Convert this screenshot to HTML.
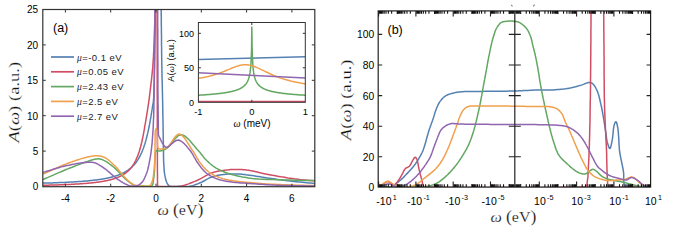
<!DOCTYPE html>
<html><head><meta charset="utf-8"><style>
html,body{margin:0;padding:0;background:#fff;width:675px;height:247px;overflow:hidden}
svg{display:block}
</style></head><body>
<svg width="675" height="247" viewBox="0 0 675 247">
<rect width="675" height="247" fill="#fff"/>
<defs><clipPath id="ca"><rect x="42.8" y="9.5" width="272.0" height="177.2"/></clipPath>
<clipPath id="cb"><rect x="378" y="11" width="272.8" height="176"/></clipPath></defs>
<g clip-path="url(#ca)">
<path d="M43.0,183.2 L43.3,183.2 L43.5,183.1 L43.8,183.1 L44.0,183.1 L44.3,183.1 L44.5,183.1 L44.8,183.1 L45.0,183.1 L45.3,183.1 L45.5,183.1 L45.8,183.1 L46.0,183.1 L46.3,183.1 L46.5,183.1 L46.8,183.1 L47.0,183.0 L47.3,183.0 L47.5,183.0 L47.8,183.0 L48.0,183.0 L48.3,183.0 L48.5,183.0 L48.8,183.0 L49.0,183.0 L49.3,183.0 L49.5,183.0 L49.8,183.0 L50.0,183.0 L50.3,182.9 L50.5,182.9 L50.8,182.9 L51.0,182.9 L51.3,182.9 L51.5,182.9 L51.8,182.9 L52.0,182.9 L52.3,182.9 L52.5,182.9 L52.8,182.9 L53.0,182.9 L53.3,182.8 L53.5,182.8 L53.8,182.8 L54.0,182.8 L54.3,182.8 L54.5,182.8 L54.8,182.8 L55.0,182.8 L55.3,182.8 L55.5,182.8 L55.8,182.8 L56.0,182.7 L56.3,182.7 L56.5,182.7 L56.8,182.7 L57.0,182.7 L57.3,182.7 L57.5,182.7 L57.8,182.7 L58.0,182.7 L58.3,182.7 L58.5,182.6 L58.8,182.6 L59.0,182.6 L59.3,182.6 L59.5,182.6 L59.8,182.6 L60.0,182.6 L60.3,182.6 L60.5,182.6 L60.8,182.6 L61.0,182.5 L61.3,182.5 L61.5,182.5 L61.8,182.5 L62.0,182.5 L62.3,182.5 L62.5,182.5 L62.8,182.5 L63.0,182.5 L63.3,182.4 L63.5,182.4 L63.8,182.4 L64.0,182.4 L64.3,182.4 L64.5,182.4 L64.8,182.4 L65.0,182.4 L65.3,182.4 L65.5,182.3 L65.8,182.3 L66.0,182.3 L66.3,182.3 L66.5,182.3 L66.8,182.3 L67.0,182.3 L67.3,182.3 L67.5,182.2 L67.8,182.2 L68.0,182.2 L68.3,182.2 L68.5,182.2 L68.8,182.2 L69.0,182.2 L69.3,182.2 L69.5,182.1 L69.8,182.1 L70.0,182.1 L70.3,182.1 L70.5,182.1 L70.8,182.1 L71.0,182.1 L71.3,182.1 L71.5,182.0 L71.8,182.0 L72.0,182.0 L72.3,182.0 L72.5,182.0 L72.8,182.0 L73.0,182.0 L73.3,181.9 L73.5,181.9 L73.8,181.9 L74.0,181.9 L74.3,181.9 L74.5,181.9 L74.8,181.8 L75.0,181.8 L75.3,181.8 L75.5,181.8 L75.8,181.8 L76.0,181.8 L76.3,181.8 L76.5,181.7 L76.8,181.7 L77.0,181.7 L77.3,181.7 L77.5,181.7 L77.8,181.7 L78.0,181.6 L78.3,181.6 L78.5,181.6 L78.8,181.6 L79.0,181.6 L79.3,181.5 L79.5,181.5 L79.8,181.5 L80.0,181.5 L80.3,181.5 L80.5,181.5 L80.8,181.4 L81.0,181.4 L81.3,181.4 L81.5,181.4 L81.8,181.4 L82.0,181.3 L82.3,181.3 L82.5,181.3 L82.8,181.3 L83.0,181.3 L83.3,181.2 L83.5,181.2 L83.8,181.2 L84.0,181.2 L84.3,181.2 L84.5,181.1 L84.8,181.1 L85.0,181.1 L85.3,181.1 L85.5,181.1 L85.8,181.0 L86.0,181.0 L86.3,181.0 L86.5,181.0 L86.8,180.9 L87.0,180.9 L87.3,180.9 L87.5,180.9 L87.8,180.9 L88.0,180.8 L88.3,180.8 L88.5,180.8 L88.8,180.8 L89.0,180.7 L89.3,180.7 L89.5,180.7 L89.8,180.7 L90.0,180.6 L90.3,180.6 L90.5,180.6 L90.8,180.6 L91.0,180.5 L91.3,180.5 L91.5,180.5 L91.8,180.5 L92.0,180.4 L92.3,180.4 L92.5,180.4 L92.8,180.3 L93.0,180.3 L93.3,180.3 L93.5,180.3 L93.8,180.2 L94.0,180.2 L94.3,180.2 L94.5,180.1 L94.8,180.1 L95.0,180.1 L95.3,180.0 L95.5,180.0 L95.8,180.0 L96.0,180.0 L96.3,179.9 L96.5,179.9 L96.8,179.9 L97.0,179.8 L97.3,179.8 L97.5,179.8 L97.8,179.7 L98.0,179.7 L98.3,179.7 L98.5,179.6 L98.8,179.6 L99.0,179.6 L99.3,179.5 L99.5,179.5 L99.8,179.4 L100.0,179.4 L100.3,179.4 L100.5,179.3 L100.8,179.3 L101.0,179.3 L101.3,179.2 L101.5,179.2 L101.8,179.1 L102.0,179.1 L102.3,179.1 L102.5,179.0 L102.8,179.0 L103.0,178.9 L103.3,178.9 L103.5,178.8 L103.8,178.8 L104.0,178.8 L104.3,178.7 L104.5,178.7 L104.8,178.6 L105.0,178.6 L105.3,178.5 L105.5,178.5 L105.8,178.4 L106.0,178.4 L106.3,178.3 L106.5,178.3 L106.8,178.2 L107.0,178.2 L107.3,178.1 L107.5,178.1 L107.8,178.0 L108.0,178.0 L108.3,177.9 L108.5,177.9 L108.8,177.8 L109.0,177.8 L109.3,177.7 L109.5,177.6 L109.8,177.6 L110.0,177.5 L110.3,177.5 L110.5,177.4 L110.8,177.3 L111.0,177.3 L111.3,177.2 L111.5,177.2 L111.8,177.1 L112.0,177.0 L112.3,177.0 L112.5,176.9 L112.8,176.8 L113.0,176.8 L113.3,176.7 L113.5,176.6 L113.8,176.5 L114.0,176.5 L114.3,176.4 L114.5,176.3 L114.8,176.3 L115.0,176.2 L115.3,176.1 L115.5,176.0 L115.8,175.9 L116.0,175.9 L116.3,175.8 L116.5,175.7 L116.8,175.6 L117.0,175.5 L117.3,175.4 L117.5,175.4 L117.8,175.3 L118.0,175.2 L118.3,175.1 L118.5,175.0 L118.8,174.9 L119.0,174.8 L119.3,174.7 L119.5,174.6 L119.8,174.5 L120.0,174.4 L120.3,174.3 L120.5,174.2 L120.8,174.1 L121.0,174.0 L121.3,173.9 L121.5,173.8 L121.8,173.7 L122.0,173.5 L122.3,173.4 L122.5,173.3 L122.8,173.2 L123.0,173.1 L123.3,172.9 L123.5,172.8 L123.8,172.7 L124.0,172.6 L124.3,172.4 L124.5,172.3 L124.8,172.1 L125.0,172.0 L125.3,171.9 L125.5,171.7 L125.8,171.6 L126.0,171.4 L126.3,171.3 L126.5,171.1 L126.8,171.0 L127.0,170.8 L127.3,170.6 L127.5,170.5 L127.8,170.3 L128.0,170.1 L128.3,170.0 L128.5,169.8 L128.8,169.6 L129.0,169.4 L129.3,169.2 L129.5,169.0 L129.8,168.8 L130.0,168.6 L130.3,168.4 L130.5,168.2 L130.8,168.0 L131.0,167.8 L131.3,167.6 L131.5,167.4 L131.8,167.1 L132.0,166.9 L132.3,166.7 L132.5,166.4 L132.8,166.2 L133.0,165.9 L133.3,165.7 L133.5,165.4 L133.8,165.1 L134.0,164.8 L134.3,164.6 L134.5,164.3 L134.8,164.0 L135.0,163.7 L135.3,163.4 L135.5,163.1 L135.8,162.8 L136.0,162.4 L136.3,162.1 L136.5,161.7 L136.8,161.4 L137.0,161.0 L137.3,160.6 L137.5,160.3 L137.8,159.9 L138.0,159.5 L138.3,159.1 L138.5,158.7 L138.8,158.3 L139.0,157.9 L139.3,157.4 L139.5,156.9 L139.8,156.4 L140.0,156.0 L140.3,155.5 L140.5,155.0 L140.8,154.4 L141.0,153.9 L141.3,153.4 L141.5,152.9 L141.8,152.3 L142.0,151.8 L142.3,151.1 L142.5,150.5 L142.8,149.8 L143.0,149.1 L143.3,148.5 L143.6,147.8 L143.8,147.1 L144.0,146.4 L144.3,145.6 L144.5,144.9 L144.8,144.2 L145.0,143.4 L145.3,142.5 L145.5,141.6 L145.8,140.7 L146.1,139.7 L146.3,138.8 L146.6,137.8 L146.8,136.8 L147.1,135.8 L147.3,134.9 L147.5,133.9 L147.8,132.9 L148.0,131.9 L148.2,130.8 L148.5,129.7 L148.7,128.6 L148.9,127.5 L149.2,126.3 L149.4,125.2 L149.6,124.1 L149.8,123.0 L150.0,121.9 L150.2,120.9 L150.3,120.0 L150.5,119.1 L150.6,118.5 L150.7,117.9 L150.8,117.4 L150.9,116.9 L151.0,116.4 L151.0,115.9 L151.1,115.5 L151.2,115.0 L151.3,114.5 L151.3,114.1 L151.4,113.6 L151.5,113.1 L151.6,112.6 L151.7,112.0 L151.8,111.5 L151.8,111.0 L151.9,110.4 L152.0,109.9 L152.1,109.4 L152.2,108.8 L152.3,108.3 L152.3,107.8 L152.4,107.2 L152.5,106.7 L152.6,106.2 L152.7,105.7 L152.8,105.2 L152.8,104.7 L152.9,104.2 L153.0,103.7 L153.1,103.2 L153.2,102.7 L153.3,102.1 L153.4,101.5 L153.4,100.8 L153.5,100.1 L153.7,97.9 L153.8,95.3 L153.9,92.4 L154.0,89.1 L154.1,85.6 L154.2,82.0 L154.3,78.2 L154.3,74.4 L154.4,70.6 L154.5,66.9 L154.5,63.4 L154.6,60.0 L154.7,57.0 L154.7,54.0 L154.8,50.9 L154.8,47.9 L154.9,45.0 L154.9,42.0 L155.0,39.0 L155.0,36.1 L155.1,33.3 L155.1,30.5 L155.2,27.7 L155.2,25.0 L155.2,22.8 L155.3,20.6 L155.3,18.5 L155.3,16.4 L155.3,14.3 L155.4,12.2 L155.4,10.2 L155.4,8.2 L155.4,6.2 L155.5,4.1 L155.5,2.1 L155.5,0.0 L161.1,0.0 L161.1,2.5 L161.1,5.0 L161.2,7.4 L161.2,9.9 L161.2,12.4 L161.2,14.9 L161.3,17.3 L161.3,19.8 L161.3,22.3 L161.3,24.9 L161.4,27.4 L161.4,30.0 L161.4,32.8 L161.5,35.7 L161.5,38.6 L161.5,41.5 L161.5,44.4 L161.6,47.3 L161.6,50.3 L161.6,53.2 L161.7,56.2 L161.7,59.1 L161.8,62.1 L161.8,65.0 L161.9,67.9 L161.9,70.8 L162.0,73.7 L162.0,76.6 L162.1,79.5 L162.2,82.4 L162.3,85.3 L162.3,88.2 L162.4,91.1 L162.5,94.0 L162.5,97.0 L162.6,100.0 L162.7,103.3 L162.7,106.6 L162.8,110.1 L162.8,113.5 L162.9,117.0 L163.0,120.5 L163.0,123.9 L163.1,127.3 L163.1,130.7 L163.2,133.9 L163.2,137.0 L163.3,140.0 L163.3,142.2 L163.4,144.5 L163.4,146.6 L163.4,148.8 L163.5,150.9 L163.5,153.0 L163.5,155.0 L163.5,156.9 L163.6,158.8 L163.6,160.6 L163.7,162.3 L163.8,164.0 L163.9,165.1 L163.9,166.1 L164.0,167.1 L164.0,168.1 L164.1,169.0 L164.2,169.9 L164.2,170.8 L164.3,171.7 L164.4,172.5 L164.5,173.3 L164.7,174.2 L164.8,175.0 L164.9,175.7 L165.1,176.4 L165.2,177.1 L165.3,177.7 L165.5,178.4 L165.6,179.1 L165.8,179.7 L166.0,180.3 L166.1,180.9 L166.4,181.5 L166.6,182.0 L166.8,182.5 L167.0,182.9 L167.2,183.2 L167.3,183.6 L167.5,183.9 L167.7,184.2 L167.9,184.5 L168.1,184.8 L168.3,185.1 L168.6,185.4 L168.9,185.6 L169.2,185.8 L169.5,186.0 L170.1,186.2 L170.8,186.4 L171.6,186.5 L172.4,186.6 L173.4,186.6 L174.3,186.6 L175.3,186.5 L176.2,186.5 L177.2,186.4 L178.2,186.3 L179.1,186.3 L180.0,186.3 L180.8,186.3 L181.6,186.4 L182.4,186.4 L183.2,186.4 L184.0,186.5 L184.8,186.5 L185.6,186.6 L186.4,186.6 L187.3,186.5 L188.1,186.5 L188.9,186.4 L189.7,186.3 L190.6,186.1 L191.6,185.9 L192.5,185.7 L193.4,185.4 L194.4,185.0 L195.3,184.7 L196.3,184.3 L197.2,184.0 L198.2,183.6 L199.1,183.2 L200.1,182.8 L201.0,182.4 L202.0,182.0 L202.9,181.5 L203.8,181.0 L204.8,180.5 L205.7,180.0 L206.6,179.4 L207.6,178.9 L208.5,178.4 L209.5,177.9 L210.4,177.5 L211.4,177.1 L212.4,176.7 L213.4,176.4 L214.5,176.1 L215.6,175.8 L216.6,175.6 L217.7,175.3 L218.8,175.2 L219.9,175.0 L221.0,174.8 L222.1,174.7 L223.2,174.5 L224.3,174.4 L225.4,174.3 L226.5,174.2 L227.6,174.1 L228.6,174.0 L229.7,174.0 L230.8,173.9 L231.9,173.9 L233.0,173.9 L234.0,173.9 L235.1,173.9 L236.2,173.9 L237.2,174.0 L238.3,174.0 L239.3,174.1 L240.3,174.1 L241.2,174.2 L242.2,174.3 L243.1,174.4 L244.1,174.5 L245.0,174.6 L246.0,174.8 L247.0,174.9 L248.0,175.0 L249.0,175.2 L250.0,175.3 L251.2,175.5 L252.5,175.6 L253.7,175.8 L255.0,176.0 L256.2,176.2 L257.5,176.4 L258.9,176.6 L260.2,176.8 L261.6,177.1 L262.9,177.3 L264.4,177.5 L265.8,177.7 L267.6,178.0 L269.5,178.2 L271.5,178.5 L273.5,178.8 L275.5,179.1 L277.5,179.4 L279.6,179.7 L281.7,179.9 L283.8,180.2 L285.9,180.5 L288.0,180.8 L290.0,181.0 L292.1,181.2 L294.1,181.5 L296.2,181.7 L298.3,181.9 L300.4,182.1 L302.5,182.3 L304.6,182.5 L306.6,182.7 L308.7,182.9 L310.8,183.1 L312.9,183.3 L315.0,183.5" fill="none" stroke="#5580b2" stroke-width="1.5" stroke-linejoin="round" />
<path d="M43.0,185.3 L43.3,185.3 L43.5,185.3 L43.8,185.3 L44.0,185.3 L44.3,185.3 L44.5,185.3 L44.8,185.3 L45.0,185.2 L45.3,185.2 L45.5,185.2 L45.8,185.2 L46.0,185.2 L46.3,185.2 L46.5,185.2 L46.8,185.2 L47.0,185.2 L47.3,185.2 L47.5,185.2 L47.8,185.2 L48.0,185.2 L48.3,185.2 L48.5,185.2 L48.8,185.2 L49.0,185.1 L49.3,185.1 L49.5,185.1 L49.8,185.1 L50.0,185.1 L50.3,185.1 L50.5,185.1 L50.8,185.1 L51.0,185.1 L51.3,185.1 L51.5,185.1 L51.8,185.1 L52.0,185.1 L52.3,185.1 L52.5,185.0 L52.8,185.0 L53.0,185.0 L53.3,185.0 L53.5,185.0 L53.8,185.0 L54.0,185.0 L54.3,185.0 L54.5,185.0 L54.8,185.0 L55.0,185.0 L55.3,185.0 L55.5,185.0 L55.8,184.9 L56.0,184.9 L56.3,184.9 L56.5,184.9 L56.8,184.9 L57.0,184.9 L57.3,184.9 L57.5,184.9 L57.8,184.9 L58.0,184.9 L58.3,184.9 L58.5,184.9 L58.8,184.8 L59.0,184.8 L59.3,184.8 L59.5,184.8 L59.8,184.8 L60.0,184.8 L60.3,184.8 L60.5,184.8 L60.8,184.8 L61.0,184.8 L61.3,184.8 L61.5,184.7 L61.8,184.7 L62.0,184.7 L62.3,184.7 L62.5,184.7 L62.8,184.7 L63.0,184.7 L63.3,184.7 L63.5,184.7 L63.8,184.7 L64.0,184.7 L64.3,184.6 L64.5,184.6 L64.8,184.6 L65.0,184.6 L65.3,184.6 L65.5,184.6 L65.8,184.6 L66.0,184.6 L66.3,184.6 L66.5,184.5 L66.8,184.5 L67.0,184.5 L67.3,184.5 L67.5,184.5 L67.8,184.5 L68.0,184.5 L68.3,184.5 L68.5,184.5 L68.8,184.4 L69.0,184.4 L69.3,184.4 L69.5,184.4 L69.8,184.4 L70.0,184.4 L70.3,184.4 L70.5,184.4 L70.8,184.4 L71.0,184.3 L71.3,184.3 L71.5,184.3 L71.8,184.3 L72.0,184.3 L72.3,184.3 L72.5,184.3 L72.8,184.3 L73.0,184.2 L73.3,184.2 L73.5,184.2 L73.8,184.2 L74.0,184.2 L74.3,184.2 L74.5,184.2 L74.8,184.1 L75.0,184.1 L75.3,184.1 L75.5,184.1 L75.8,184.1 L76.0,184.1 L76.3,184.1 L76.5,184.0 L76.8,184.0 L77.0,184.0 L77.3,184.0 L77.5,184.0 L77.8,184.0 L78.0,184.0 L78.3,183.9 L78.5,183.9 L78.8,183.9 L79.0,183.9 L79.3,183.9 L79.5,183.9 L79.8,183.8 L80.0,183.8 L80.3,183.8 L80.5,183.8 L80.8,183.8 L81.0,183.8 L81.3,183.7 L81.5,183.7 L81.8,183.7 L82.0,183.7 L82.3,183.7 L82.5,183.7 L82.8,183.6 L83.0,183.6 L83.3,183.6 L83.5,183.6 L83.8,183.6 L84.0,183.5 L84.3,183.5 L84.5,183.5 L84.8,183.5 L85.0,183.5 L85.3,183.4 L85.5,183.4 L85.8,183.4 L86.0,183.4 L86.3,183.4 L86.5,183.3 L86.8,183.3 L87.0,183.3 L87.3,183.3 L87.5,183.3 L87.8,183.2 L88.0,183.2 L88.3,183.2 L88.5,183.2 L88.8,183.1 L89.0,183.1 L89.3,183.1 L89.5,183.1 L89.8,183.0 L90.0,183.0 L90.3,183.0 L90.5,183.0 L90.8,183.0 L91.0,182.9 L91.3,182.9 L91.5,182.9 L91.8,182.9 L92.0,182.8 L92.3,182.8 L92.5,182.8 L92.8,182.7 L93.0,182.7 L93.3,182.7 L93.5,182.7 L93.8,182.6 L94.0,182.6 L94.3,182.6 L94.5,182.5 L94.8,182.5 L95.0,182.5 L95.3,182.5 L95.5,182.4 L95.8,182.4 L96.0,182.4 L96.3,182.3 L96.5,182.3 L96.8,182.3 L97.0,182.2 L97.3,182.2 L97.5,182.2 L97.8,182.1 L98.0,182.1 L98.3,182.1 L98.5,182.0 L98.8,182.0 L99.0,182.0 L99.3,181.9 L99.5,181.9 L99.8,181.9 L100.0,181.8 L100.3,181.8 L100.5,181.8 L100.8,181.7 L101.0,181.7 L101.3,181.6 L101.5,181.6 L101.8,181.6 L102.0,181.5 L102.3,181.5 L102.5,181.4 L102.8,181.4 L103.0,181.3 L103.3,181.3 L103.5,181.3 L103.8,181.2 L104.0,181.2 L104.3,181.1 L104.5,181.1 L104.8,181.0 L105.0,181.0 L105.3,180.9 L105.5,180.9 L105.8,180.8 L106.0,180.8 L106.3,180.7 L106.5,180.7 L106.8,180.6 L107.0,180.6 L107.3,180.5 L107.5,180.5 L107.8,180.4 L108.0,180.4 L108.3,180.3 L108.5,180.3 L108.8,180.2 L109.0,180.1 L109.3,180.1 L109.5,180.0 L109.8,180.0 L110.0,179.9 L110.3,179.8 L110.5,179.8 L110.8,179.7 L111.0,179.6 L111.3,179.6 L111.5,179.5 L111.8,179.4 L112.0,179.4 L112.3,179.3 L112.5,179.2 L112.8,179.1 L113.0,179.1 L113.3,179.0 L113.5,178.9 L113.8,178.8 L114.0,178.8 L114.3,178.7 L114.5,178.6 L114.8,178.5 L115.0,178.4 L115.3,178.3 L115.5,178.3 L115.8,178.2 L116.0,178.1 L116.3,178.0 L116.5,177.9 L116.8,177.8 L117.0,177.7 L117.3,177.6 L117.5,177.5 L117.8,177.4 L118.0,177.3 L118.3,177.2 L118.5,177.1 L118.8,177.0 L119.0,176.9 L119.3,176.8 L119.5,176.6 L119.8,176.5 L120.0,176.4 L120.3,176.3 L120.5,176.2 L120.8,176.0 L121.0,175.9 L121.3,175.8 L121.5,175.6 L121.8,175.5 L122.0,175.4 L122.3,175.2 L122.5,175.1 L122.8,174.9 L123.0,174.8 L123.3,174.6 L123.5,174.5 L123.8,174.3 L124.0,174.2 L124.3,174.0 L124.5,173.8 L124.8,173.7 L125.0,173.5 L125.3,173.3 L125.5,173.1 L125.8,172.9 L126.0,172.7 L126.3,172.6 L126.5,172.4 L126.8,172.2 L127.0,171.9 L127.3,171.7 L127.5,171.5 L127.8,171.3 L128.0,171.0 L128.3,170.8 L128.5,170.6 L128.8,170.3 L129.0,170.1 L129.3,169.8 L129.5,169.6 L129.8,169.3 L130.0,169.0 L130.3,168.8 L130.5,168.5 L130.8,168.1 L131.0,167.8 L131.3,167.5 L131.5,167.2 L131.8,166.9 L132.0,166.5 L132.3,166.2 L132.5,165.9 L132.8,165.5 L133.0,165.2 L133.3,164.8 L133.5,164.3 L133.8,163.9 L134.0,163.5 L134.3,163.1 L134.5,162.6 L134.8,162.2 L135.0,161.7 L135.3,161.2 L135.5,160.8 L135.8,160.3 L136.0,159.8 L136.3,159.2 L136.5,158.6 L136.8,158.0 L137.1,157.4 L137.3,156.8 L137.6,156.2 L137.8,155.6 L138.0,154.9 L138.3,154.2 L138.5,153.6 L138.8,152.9 L139.0,152.2 L139.3,151.4 L139.5,150.5 L139.8,149.6 L140.1,148.8 L140.3,147.9 L140.6,146.9 L140.8,146.0 L141.1,145.1 L141.3,144.1 L141.5,143.1 L141.8,142.2 L142.0,141.2 L142.3,140.0 L142.5,138.7 L142.8,137.5 L143.0,136.2 L143.3,134.9 L143.5,133.6 L143.8,132.3 L144.0,131.0 L144.3,129.6 L144.5,128.2 L144.7,126.7 L145.0,125.3 L145.3,123.4 L145.7,121.4 L146.0,119.4 L146.3,117.4 L146.7,115.3 L147.0,113.2 L147.4,111.0 L147.7,108.8 L148.0,106.6 L148.4,104.3 L148.7,102.1 L149.0,99.8 L149.4,97.1 L149.7,94.3 L150.1,91.5 L150.4,88.6 L150.8,85.7 L151.1,82.7 L151.5,79.8 L151.8,76.8 L152.1,73.8 L152.4,70.9 L152.7,67.9 L152.9,65.0 L153.1,62.1 L153.3,59.1 L153.5,56.2 L153.6,53.2 L153.8,50.3 L153.9,47.3 L154.0,44.4 L154.1,41.5 L154.2,38.6 L154.3,35.7 L154.4,32.8 L154.5,30.0 L154.6,27.4 L154.7,24.9 L154.8,22.3 L154.9,19.8 L155.0,17.3 L155.1,14.9 L155.2,12.4 L155.2,9.9 L155.3,7.4 L155.4,5.0 L155.5,2.5 L155.6,0.0 L157.1,0.0 L157.1,10.1 L157.1,20.4 L157.1,30.8 L157.2,41.3 L157.2,51.8 L157.2,62.2 L157.2,72.5 L157.2,82.6 L157.2,92.5 L157.3,102.0 L157.3,111.2 L157.3,120.0 L157.3,126.2 L157.3,132.2 L157.3,138.0 L157.4,143.6 L157.4,149.0 L157.4,154.4 L157.4,159.7 L157.4,165.0 L157.4,170.3 L157.5,175.6 L157.5,180.9 L157.5,186.4 L157.5,186.4 L157.5,186.4 L157.6,186.4 L157.6,186.4 L157.6,186.4 L157.7,186.4 L157.7,186.5 L157.7,186.5 L157.8,186.5 L157.8,186.5 L157.9,186.5 L157.9,186.5 L158.0,186.5 L158.4,186.5 L159.1,186.5 L159.9,186.6 L160.9,186.6 L161.9,186.6 L163.1,186.6 L164.3,186.6 L165.5,186.5 L166.7,186.5 L167.9,186.5 L169.0,186.5 L170.0,186.5 L170.9,186.5 L171.7,186.5 L172.5,186.5 L173.3,186.6 L174.1,186.6 L174.9,186.6 L175.7,186.6 L176.5,186.6 L177.4,186.6 L178.2,186.5 L179.1,186.4 L180.0,186.3 L181.2,186.1 L182.5,185.8 L183.8,185.4 L185.2,185.0 L186.5,184.5 L187.9,184.1 L189.3,183.6 L190.7,183.0 L192.1,182.5 L193.5,181.9 L194.9,181.4 L196.2,180.8 L197.6,180.2 L198.9,179.5 L200.3,178.8 L201.6,178.1 L202.9,177.3 L204.3,176.6 L205.6,175.8 L207.0,175.1 L208.3,174.4 L209.7,173.8 L211.0,173.2 L212.4,172.7 L213.7,172.3 L215.1,171.9 L216.5,171.6 L217.9,171.3 L219.3,171.0 L220.7,170.8 L222.1,170.6 L223.5,170.4 L224.8,170.2 L226.1,170.1 L227.4,169.9 L228.6,169.8 L229.5,169.7 L230.3,169.6 L231.2,169.6 L232.0,169.5 L232.8,169.5 L233.5,169.4 L234.3,169.4 L235.1,169.4 L235.9,169.4 L236.7,169.4 L237.5,169.4 L238.3,169.4 L239.2,169.4 L240.2,169.5 L241.1,169.5 L242.1,169.6 L243.0,169.7 L244.0,169.7 L245.0,169.8 L245.9,169.9 L246.9,170.1 L247.9,170.2 L249.0,170.3 L250.0,170.5 L251.2,170.7 L252.5,170.9 L253.7,171.2 L254.9,171.5 L256.2,171.8 L257.5,172.1 L258.8,172.4 L260.1,172.7 L261.5,173.1 L262.9,173.4 L264.3,173.7 L265.8,174.0 L267.8,174.4 L269.8,174.8 L272.0,175.2 L274.2,175.6 L276.4,176.0 L278.7,176.4 L281.0,176.8 L283.3,177.1 L285.6,177.5 L287.8,177.9 L290.0,178.2 L292.2,178.5 L294.2,178.8 L296.1,179.0 L298.0,179.2 L299.9,179.5 L301.8,179.7 L303.7,179.9 L305.6,180.0 L307.5,180.2 L309.3,180.4 L311.2,180.6 L313.1,180.8 L315.0,181.0" fill="none" stroke="#d04e64" stroke-width="1.5" stroke-linejoin="round" />
<path d="M43.0,179.5 L45.3,178.5 L47.5,177.6 L49.8,176.6 L52.0,175.6 L54.3,174.6 L56.5,173.6 L58.8,172.6 L61.1,171.7 L63.3,170.7 L65.5,169.8 L67.8,168.9 L70.0,168.0 L72.2,167.2 L74.4,166.3 L76.7,165.4 L79.1,164.5 L81.4,163.6 L83.7,162.7 L85.9,161.9 L88.1,161.2 L90.1,160.5 L91.9,160.0 L93.6,159.5 L95.0,159.2 L95.5,159.1 L96.0,159.0 L96.5,158.9 L96.9,158.9 L97.4,158.9 L97.7,158.8 L98.1,158.8 L98.5,158.8 L98.9,158.9 L99.2,158.9 L99.6,158.9 L100.0,159.0 L100.4,159.1 L100.8,159.2 L101.2,159.3 L101.5,159.4 L101.9,159.5 L102.3,159.6 L102.7,159.8 L103.1,160.0 L103.4,160.2 L103.8,160.4 L104.3,160.6 L104.7,160.8 L105.4,161.2 L106.2,161.7 L107.0,162.2 L107.8,162.7 L108.7,163.3 L109.5,164.0 L110.4,164.6 L111.2,165.2 L112.1,165.9 L112.9,166.5 L113.7,167.2 L114.4,167.8 L115.0,168.3 L115.6,168.9 L116.2,169.4 L116.7,169.9 L117.2,170.5 L117.8,171.0 L118.3,171.6 L118.8,172.1 L119.3,172.7 L119.8,173.2 L120.4,173.8 L120.9,174.3 L121.4,174.8 L122.0,175.4 L122.5,175.9 L123.0,176.5 L123.5,177.1 L124.1,177.6 L124.6,178.1 L125.1,178.7 L125.7,179.2 L126.2,179.7 L126.8,180.2 L127.4,180.7 L128.0,181.2 L128.7,181.7 L129.3,182.2 L130.0,182.6 L130.7,183.1 L131.4,183.6 L132.1,184.0 L132.8,184.4 L133.5,184.8 L134.1,185.1 L134.8,185.4 L135.5,185.6 L136.0,185.8 L136.6,185.9 L137.1,185.9 L137.7,186.0 L138.2,186.0 L138.8,186.0 L139.3,186.0 L139.9,186.0 L140.4,186.0 L140.9,186.0 L141.5,186.0 L142.0,186.0 L142.5,186.0 L143.0,186.1 L143.5,186.1 L144.1,186.1 L144.6,186.1 L145.1,186.2 L145.6,186.2 L146.1,186.2 L146.6,186.2 L147.1,186.2 L147.5,186.2 L148.0,186.2 L148.4,186.2 L148.7,186.2 L149.1,186.2 L149.5,186.2 L149.8,186.2 L150.2,186.2 L150.5,186.2 L150.9,186.1 L151.2,186.0 L151.5,185.9 L151.8,185.8 L152.0,185.6 L152.3,185.3 L152.5,184.9 L152.7,184.4 L152.9,183.9 L153.0,183.3 L153.1,182.7 L153.2,182.1 L153.3,181.5 L153.4,180.8 L153.4,180.2 L153.5,179.6 L153.6,179.0 L153.7,178.4 L153.8,177.9 L153.9,177.3 L153.9,176.8 L154.0,176.2 L154.1,175.7 L154.1,175.1 L154.2,174.5 L154.2,173.9 L154.3,173.3 L154.3,172.7 L154.4,172.0 L154.5,171.0 L154.5,169.9 L154.6,168.7 L154.7,167.5 L154.7,166.2 L154.8,165.0 L154.8,163.7 L154.9,162.5 L154.9,161.2 L155.0,160.1 L155.0,159.0 L155.1,158.0 L155.1,157.4 L155.2,156.7 L155.2,156.1 L155.2,155.4 L155.3,154.8 L155.3,154.3 L155.3,153.7 L155.4,153.2 L155.5,152.7 L155.6,152.2 L155.7,151.8 L155.8,151.5 L155.9,151.3 L156.0,151.2 L156.1,151.1 L156.2,150.9 L156.3,150.8 L156.4,150.7 L156.5,150.6 L156.6,150.5 L156.7,150.4 L156.8,150.4 L156.9,150.3 L157.0,150.3 L157.1,150.3 L157.2,150.3 L157.3,150.3 L157.4,150.4 L157.5,150.4 L157.6,150.5 L157.7,150.5 L157.8,150.6 L157.9,150.7 L158.0,150.7 L158.1,150.8 L158.2,150.8 L158.3,150.8 L158.5,150.9 L158.6,150.9 L158.7,150.9 L158.9,151.0 L159.0,151.0 L159.2,151.0 L159.3,151.0 L159.5,151.0 L159.6,151.0 L159.8,151.0 L160.0,151.0 L160.4,150.9 L160.9,150.8 L161.5,150.7 L162.0,150.5 L162.6,150.3 L163.3,150.1 L163.9,149.8 L164.6,149.5 L165.3,149.2 L166.0,148.8 L166.6,148.4 L167.3,148.0 L168.3,147.2 L169.4,146.1 L170.5,144.8 L171.6,143.4 L172.7,141.9 L173.9,140.4 L175.0,138.9 L176.2,137.6 L177.4,136.4 L178.6,135.5 L179.8,134.9 L181.0,134.7 L182.4,134.9 L183.8,135.5 L185.2,136.4 L186.7,137.6 L188.2,139.0 L189.7,140.6 L191.2,142.2 L192.6,143.9 L194.0,145.6 L195.4,147.2 L196.6,148.7 L197.8,150.0 L198.6,150.9 L199.3,151.7 L200.1,152.6 L200.7,153.4 L201.4,154.2 L202.0,155.0 L202.6,155.8 L203.2,156.6 L203.8,157.4 L204.5,158.2 L205.2,159.0 L205.9,159.7 L206.7,160.4 L207.4,161.2 L208.2,161.9 L209.0,162.6 L209.7,163.3 L210.5,164.0 L211.4,164.7 L212.2,165.4 L213.0,166.0 L213.9,166.6 L214.8,167.2 L215.7,167.8 L216.7,168.4 L217.7,168.9 L218.6,169.5 L219.7,170.0 L220.7,170.5 L221.7,170.9 L222.8,171.4 L223.9,171.8 L225.0,172.3 L226.2,172.7 L227.4,173.1 L228.6,173.5 L230.2,174.0 L231.8,174.5 L233.5,174.9 L235.2,175.4 L236.9,175.8 L238.7,176.2 L240.5,176.6 L242.4,177.0 L244.3,177.3 L246.2,177.6 L248.1,177.9 L250.0,178.2 L252.2,178.5 L254.5,178.7 L256.8,178.9 L259.2,179.1 L261.6,179.2 L264.0,179.3 L266.5,179.4 L268.9,179.5 L271.4,179.6 L273.9,179.6 L276.5,179.7 L279.0,179.8 L281.9,179.9 L284.8,180.0 L287.7,180.1 L290.7,180.1 L293.7,180.2 L296.8,180.3 L299.8,180.3 L302.9,180.4 L305.9,180.4 L309.0,180.5 L312.0,180.5 L315.0,180.6" fill="none" stroke="#62a862" stroke-width="1.5" stroke-linejoin="round" />
<path d="M43.0,174.0 L45.3,173.0 L47.5,172.0 L49.8,171.0 L52.1,170.0 L54.4,169.0 L56.7,168.0 L59.0,167.0 L61.3,166.0 L63.5,165.0 L65.7,164.1 L67.9,163.3 L70.0,162.5 L71.8,161.9 L73.6,161.2 L75.4,160.6 L77.2,160.0 L79.0,159.5 L80.7,158.9 L82.4,158.4 L84.1,157.9 L85.7,157.5 L87.2,157.1 L88.6,156.8 L90.0,156.5 L90.8,156.4 L91.5,156.2 L92.3,156.1 L92.9,156.0 L93.6,155.9 L94.3,155.8 L94.9,155.8 L95.5,155.8 L96.1,155.7 L96.8,155.7 L97.4,155.8 L98.0,155.8 L98.6,155.9 L99.2,155.9 L99.7,156.0 L100.3,156.1 L100.8,156.2 L101.4,156.3 L101.9,156.4 L102.5,156.6 L103.0,156.8 L103.6,157.0 L104.1,157.2 L104.7,157.5 L105.5,157.9 L106.3,158.4 L107.1,159.0 L108.0,159.6 L108.8,160.3 L109.7,161.0 L110.5,161.8 L111.3,162.5 L112.1,163.2 L112.9,164.0 L113.7,164.7 L114.4,165.4 L115.0,166.0 L115.6,166.6 L116.2,167.2 L116.7,167.8 L117.2,168.4 L117.8,169.0 L118.3,169.6 L118.8,170.3 L119.3,170.9 L119.8,171.5 L120.4,172.1 L120.9,172.7 L121.4,173.3 L122.0,173.9 L122.5,174.6 L123.0,175.2 L123.6,175.8 L124.1,176.5 L124.6,177.1 L125.2,177.7 L125.7,178.3 L126.3,178.9 L126.8,179.5 L127.4,180.0 L127.9,180.5 L128.4,180.9 L128.9,181.4 L129.5,181.9 L130.0,182.3 L130.5,182.7 L131.1,183.1 L131.6,183.5 L132.1,183.9 L132.7,184.2 L133.2,184.5 L133.8,184.8 L134.3,185.0 L134.9,185.2 L135.4,185.3 L136.0,185.5 L136.5,185.6 L137.1,185.7 L137.6,185.7 L138.2,185.8 L138.7,185.8 L139.3,185.9 L139.8,185.9 L140.3,186.0 L140.7,186.0 L141.1,186.1 L141.5,186.1 L141.9,186.1 L142.3,186.2 L142.7,186.2 L143.1,186.2 L143.5,186.2 L143.8,186.2 L144.2,186.2 L144.6,186.2 L145.0,186.2 L145.4,186.2 L145.8,186.2 L146.2,186.2 L146.6,186.3 L147.0,186.3 L147.4,186.3 L147.8,186.3 L148.1,186.3 L148.5,186.3 L148.9,186.2 L149.2,186.1 L149.5,185.9 L149.8,185.7 L150.1,185.4 L150.4,185.1 L150.7,184.7 L150.9,184.3 L151.1,183.9 L151.4,183.4 L151.6,182.9 L151.8,182.5 L151.9,182.0 L152.1,181.5 L152.3,181.0 L152.5,180.4 L152.7,179.8 L152.8,179.1 L153.0,178.5 L153.1,177.8 L153.2,177.1 L153.3,176.3 L153.4,175.6 L153.5,174.9 L153.6,174.1 L153.7,173.3 L153.8,172.5 L153.9,171.4 L154.0,170.3 L154.1,169.2 L154.2,168.0 L154.3,166.8 L154.4,165.6 L154.5,164.4 L154.6,163.1 L154.6,161.8 L154.7,160.6 L154.7,159.3 L154.8,158.0 L154.9,156.5 L154.9,155.0 L154.9,153.5 L155.0,151.9 L155.0,150.3 L155.0,148.7 L155.0,147.2 L155.0,145.6 L155.0,144.1 L155.1,142.7 L155.1,141.3 L155.1,140.0 L155.1,139.1 L155.1,138.3 L155.1,137.4 L155.1,136.6 L155.1,135.7 L155.1,135.0 L155.1,134.2 L155.2,133.5 L155.2,132.8 L155.2,132.1 L155.3,131.5 L155.4,131.0 L155.5,130.7 L155.5,130.4 L155.6,130.1 L155.7,129.9 L155.7,129.6 L155.8,129.3 L155.9,129.1 L156.0,128.9 L156.1,128.7 L156.1,128.6 L156.2,128.5 L156.3,128.5 L156.4,128.5 L156.5,128.6 L156.5,128.7 L156.6,128.9 L156.7,129.1 L156.8,129.4 L156.9,129.6 L156.9,129.9 L157.0,130.2 L157.1,130.5 L157.1,130.7 L157.2,131.0 L157.3,131.4 L157.3,131.8 L157.4,132.3 L157.4,132.7 L157.4,133.2 L157.4,133.7 L157.4,134.2 L157.4,134.8 L157.4,135.3 L157.4,135.9 L157.5,136.4 L157.5,137.0 L157.5,137.9 L157.5,138.8 L157.5,139.9 L157.5,141.0 L157.5,142.2 L157.5,143.3 L157.5,144.4 L157.6,145.4 L157.7,146.4 L157.8,147.2 L158.1,147.9 L158.4,148.4 L158.6,148.6 L158.9,148.8 L159.1,148.9 L159.4,149.0 L159.7,149.0 L160.0,149.1 L160.3,149.1 L160.7,149.1 L161.0,149.1 L161.3,149.1 L161.7,149.0 L162.0,149.0 L162.4,149.0 L162.8,148.9 L163.2,148.9 L163.7,148.8 L164.1,148.7 L164.5,148.6 L165.0,148.4 L165.4,148.3 L165.9,148.1 L166.3,147.9 L166.8,147.6 L167.3,147.3 L168.2,146.6 L169.1,145.5 L170.1,144.3 L171.0,142.9 L172.0,141.4 L173.0,139.8 L174.1,138.3 L175.1,137.0 L176.1,135.8 L177.2,134.9 L178.2,134.3 L179.2,134.1 L180.3,134.3 L181.4,135.0 L182.5,135.9 L183.7,137.1 L184.8,138.6 L185.9,140.2 L187.0,141.9 L188.1,143.6 L189.2,145.4 L190.3,147.0 L191.3,148.6 L192.2,150.0 L193.0,151.1 L193.7,152.2 L194.4,153.4 L195.1,154.5 L195.7,155.7 L196.4,156.8 L197.0,157.9 L197.7,159.0 L198.3,160.0 L198.9,161.1 L199.6,162.1 L200.3,163.0 L200.9,163.8 L201.5,164.5 L202.1,165.3 L202.6,166.0 L203.2,166.7 L203.8,167.3 L204.4,168.0 L205.0,168.6 L205.7,169.3 L206.3,169.9 L206.9,170.4 L207.6,171.0 L208.2,171.5 L208.9,172.0 L209.5,172.5 L210.1,172.9 L210.8,173.3 L211.4,173.7 L212.1,174.1 L212.8,174.5 L213.5,174.9 L214.2,175.3 L214.9,175.6 L215.7,176.0 L216.6,176.4 L217.6,176.8 L218.6,177.2 L219.6,177.6 L220.6,177.9 L221.7,178.2 L222.8,178.6 L223.9,178.9 L225.0,179.2 L226.2,179.5 L227.4,179.7 L228.6,180.0 L230.2,180.3 L231.8,180.6 L233.5,180.9 L235.2,181.1 L236.9,181.3 L238.7,181.5 L240.5,181.7 L242.4,181.9 L244.3,182.1 L246.2,182.2 L248.1,182.4 L250.0,182.6 L252.3,182.8 L254.7,183.0 L257.1,183.2 L259.5,183.4 L262.0,183.6 L264.5,183.7 L267.1,183.9 L269.6,184.1 L272.2,184.2 L274.8,184.3 L277.4,184.5 L280.0,184.6 L282.8,184.7 L285.7,184.8 L288.6,184.9 L291.5,185.0 L294.4,185.1 L297.3,185.2 L300.3,185.2 L303.2,185.3 L306.2,185.4 L309.1,185.4 L312.1,185.5 L315.0,185.6" fill="none" stroke="#f0a04c" stroke-width="1.5" stroke-linejoin="round" />
<path d="M43.0,172.4 L44.8,171.9 L46.7,171.3 L48.5,170.7 L50.3,170.2 L52.1,169.6 L54.0,169.0 L55.8,168.5 L57.6,167.9 L59.5,167.4 L61.3,166.9 L63.1,166.4 L65.0,166.0 L66.9,165.6 L68.9,165.2 L70.9,164.7 L72.9,164.3 L75.0,164.0 L77.0,163.6 L79.0,163.3 L81.0,163.0 L82.8,162.7 L84.5,162.5 L86.1,162.4 L87.6,162.3 L88.4,162.3 L89.1,162.2 L89.7,162.2 L90.3,162.2 L90.9,162.2 L91.5,162.3 L92.1,162.3 L92.6,162.4 L93.2,162.4 L93.8,162.6 L94.4,162.7 L95.0,162.9 L95.8,163.2 L96.6,163.5 L97.4,163.9 L98.2,164.3 L99.0,164.8 L99.8,165.3 L100.7,165.8 L101.5,166.4 L102.3,166.9 L103.1,167.5 L103.9,168.0 L104.7,168.6 L105.5,169.2 L106.4,169.8 L107.2,170.5 L108.0,171.2 L108.8,171.9 L109.6,172.6 L110.4,173.3 L111.2,174.1 L112.0,174.7 L112.8,175.4 L113.6,176.1 L114.4,176.7 L115.1,177.2 L115.8,177.8 L116.4,178.3 L117.1,178.8 L117.8,179.3 L118.4,179.8 L119.1,180.2 L119.8,180.7 L120.5,181.2 L121.1,181.6 L121.8,182.0 L122.5,182.4 L123.2,182.8 L123.8,183.1 L124.5,183.5 L125.2,183.9 L125.9,184.2 L126.6,184.5 L127.2,184.8 L127.9,185.1 L128.6,185.4 L129.3,185.6 L129.9,185.8 L130.6,185.9 L131.2,186.0 L131.7,186.1 L132.3,186.1 L132.9,186.1 L133.4,186.2 L134.0,186.1 L134.5,186.1 L135.1,186.0 L135.6,186.0 L136.1,185.9 L136.6,185.7 L137.1,185.6 L137.5,185.4 L138.0,185.3 L138.4,185.1 L138.8,184.9 L139.2,184.6 L139.6,184.4 L140.0,184.1 L140.4,183.8 L140.8,183.5 L141.2,183.2 L141.5,182.8 L141.9,182.4 L142.4,181.8 L142.9,181.1 L143.3,180.4 L143.8,179.6 L144.2,178.8 L144.6,178.0 L145.0,177.1 L145.4,176.2 L145.8,175.3 L146.1,174.4 L146.5,173.5 L146.8,172.7 L147.1,171.9 L147.3,171.1 L147.6,170.3 L147.8,169.6 L148.0,168.8 L148.2,168.0 L148.3,167.2 L148.5,166.4 L148.7,165.6 L148.9,164.7 L149.0,163.9 L149.2,163.0 L149.4,162.0 L149.6,160.9 L149.8,159.8 L150.0,158.8 L150.2,157.7 L150.4,156.6 L150.6,155.4 L150.7,154.3 L150.9,153.1 L151.1,151.8 L151.2,150.6 L151.4,149.3 L151.6,147.5 L151.8,145.7 L152.0,143.9 L152.2,142.0 L152.3,140.0 L152.5,138.1 L152.6,136.0 L152.8,133.9 L152.9,131.8 L153.1,129.6 L153.2,127.3 L153.3,125.0 L153.4,121.7 L153.6,118.3 L153.7,114.8 L153.8,111.1 L153.9,107.3 L153.9,103.5 L154.0,99.6 L154.1,95.7 L154.1,91.7 L154.2,87.8 L154.2,83.9 L154.3,80.0 L154.4,75.9 L154.4,71.7 L154.5,67.4 L154.5,63.1 L154.6,58.7 L154.6,54.4 L154.6,50.1 L154.7,45.8 L154.7,41.7 L154.7,37.6 L154.8,33.7 L154.8,30.0 L154.8,27.2 L154.8,24.6 L154.9,22.0 L154.9,19.4 L154.9,17.0 L154.9,14.5 L154.9,12.1 L154.9,9.7 L155.0,7.3 L155.0,4.9 L155.0,2.5 L155.0,0.0 L157.6,0.0 L157.6,3.3 L157.6,6.6 L157.7,9.8 L157.7,13.0 L157.7,16.3 L157.7,19.5 L157.7,22.8 L157.7,26.1 L157.8,29.4 L157.8,32.9 L157.8,36.4 L157.8,40.0 L157.8,44.6 L157.8,49.5 L157.8,54.5 L157.9,59.7 L157.9,65.0 L157.9,70.2 L157.9,75.5 L157.9,80.7 L157.9,85.8 L157.9,90.8 L158.0,95.5 L158.0,100.0 L158.0,103.2 L158.1,106.4 L158.1,109.4 L158.1,112.4 L158.2,115.2 L158.2,118.1 L158.2,120.9 L158.3,123.7 L158.3,126.5 L158.3,129.3 L158.4,132.1 L158.4,135.0 L158.4,135.0 L158.8,135.8 L159.1,136.5 L159.5,137.3 L159.9,138.1 L160.3,138.9 L160.6,139.7 L161.0,140.5 L161.4,141.3 L161.8,142.0 L162.1,142.7 L162.5,143.3 L162.9,143.9 L163.2,144.3 L163.4,144.7 L163.6,145.0 L163.9,145.4 L164.1,145.8 L164.4,146.1 L164.6,146.4 L164.9,146.7 L165.2,146.9 L165.5,147.1 L165.8,147.2 L166.2,147.3 L166.9,147.2 L167.8,146.9 L168.7,146.3 L169.7,145.5 L170.7,144.6 L171.8,143.7 L172.9,142.8 L174.0,141.9 L175.2,141.1 L176.3,140.5 L177.3,140.2 L178.3,140.1 L179.3,140.3 L180.3,140.7 L181.3,141.3 L182.3,142.0 L183.3,142.8 L184.3,143.8 L185.2,144.8 L186.2,145.8 L187.1,146.9 L188.0,148.0 L188.9,149.0 L189.7,150.0 L190.5,151.0 L191.2,152.0 L191.9,153.1 L192.6,154.2 L193.3,155.3 L193.9,156.5 L194.5,157.6 L195.2,158.7 L195.8,159.8 L196.4,160.9 L197.1,162.0 L197.8,163.0 L198.4,163.9 L199.1,164.8 L199.7,165.7 L200.4,166.5 L201.0,167.4 L201.7,168.2 L202.3,169.0 L203.0,169.8 L203.7,170.6 L204.4,171.3 L205.1,172.0 L205.9,172.7 L206.6,173.3 L207.4,173.9 L208.2,174.4 L208.9,174.9 L209.7,175.4 L210.5,175.9 L211.4,176.4 L212.2,176.8 L213.1,177.2 L213.9,177.6 L214.8,178.0 L215.7,178.4 L216.7,178.8 L217.7,179.1 L218.7,179.5 L219.7,179.8 L220.7,180.0 L221.8,180.3 L222.9,180.5 L224.0,180.8 L225.1,181.0 L226.2,181.2 L227.4,181.4 L228.6,181.6 L230.2,181.8 L231.8,182.1 L233.5,182.3 L235.2,182.4 L237.0,182.6 L238.7,182.7 L240.6,182.9 L242.4,183.0 L244.3,183.1 L246.2,183.2 L248.1,183.4 L250.0,183.5 L252.3,183.7 L254.5,183.8 L256.9,184.0 L259.2,184.2 L261.6,184.3 L264.0,184.5 L266.5,184.7 L268.9,184.8 L271.4,184.9 L273.9,185.1 L276.5,185.2 L279.0,185.3 L281.9,185.4 L284.8,185.5 L287.7,185.6 L290.7,185.6 L293.7,185.7 L296.8,185.7 L299.8,185.8 L302.9,185.8 L305.9,185.9 L309.0,185.9 L312.0,185.9 L315.0,186.0" fill="none" stroke="#9066b0" stroke-width="1.5" stroke-linejoin="round" />
</g>
<rect x="42.8" y="9.5" width="272.0" height="177.2" fill="none" stroke="#333" stroke-width="1.2"/>
<path d="M65.4,186.7v-3M65.4,9.5v3M110.7,186.7v-3M110.7,9.5v3M156.0,186.7v-3M156.0,9.5v3M201.3,186.7v-3M201.3,9.5v3M246.6,186.7v-3M246.6,9.5v3M291.9,186.7v-3M291.9,9.5v3M42.8,151.1h3M314.8,151.1h-3M42.8,115.7h3M314.8,115.7h-3M42.8,80.3h3M314.8,80.3h-3M42.8,44.9h3M314.8,44.9h-3" stroke="#333" stroke-width="1" fill="none"/>
<text x="38.2" y="190.4" font-family="Liberation Sans, sans-serif" font-size="10" text-anchor="end">0</text>
<text x="38.2" y="155.0" font-family="Liberation Sans, sans-serif" font-size="10" text-anchor="end">5</text>
<text x="38.2" y="119.6" font-family="Liberation Sans, sans-serif" font-size="10" text-anchor="end">10</text>
<text x="38.2" y="84.2" font-family="Liberation Sans, sans-serif" font-size="10" text-anchor="end">15</text>
<text x="38.2" y="48.8" font-family="Liberation Sans, sans-serif" font-size="10" text-anchor="end">20</text>
<text x="38.2" y="13.4" font-family="Liberation Sans, sans-serif" font-size="10" text-anchor="end">25</text>
<text x="65.4" y="201.5" font-family="Liberation Sans, sans-serif" font-size="10" text-anchor="middle">-4</text>
<text x="110.7" y="201.5" font-family="Liberation Sans, sans-serif" font-size="10" text-anchor="middle">-2</text>
<text x="156.0" y="201.5" font-family="Liberation Sans, sans-serif" font-size="10" text-anchor="middle">0</text>
<text x="201.3" y="201.5" font-family="Liberation Sans, sans-serif" font-size="10" text-anchor="middle">2</text>
<text x="246.6" y="201.5" font-family="Liberation Sans, sans-serif" font-size="10" text-anchor="middle">4</text>
<text x="291.9" y="201.5" font-family="Liberation Sans, sans-serif" font-size="10" text-anchor="middle">6</text>
<text transform="translate(180.5,214.5) scale(1.07,1)" font-family="Liberation Serif, serif" font-size="15" fill="#111" stroke="#fff" stroke-width="0.18" text-anchor="middle"><tspan font-style="italic">ω</tspan> <tspan font-size="16.5">(</tspan>eV<tspan font-size="16.5">)</tspan></text>
<text transform="translate(18.7,102.2) rotate(-90) scale(1.24,1)" font-family="Liberation Serif, serif" font-size="15" fill="#111" stroke="#fff" stroke-width="0.18" text-anchor="middle"><tspan font-style="italic">A</tspan>(<tspan font-style="italic">ω</tspan>) (a.u.)</text>
<text x="53" y="32" font-family="Liberation Sans, sans-serif" font-size="12.5">(a)</text>
<path d="M51,57.0H74" stroke="#5580b2" stroke-width="1.7"/>
<text x="77" y="60.5" font-family="Liberation Sans, sans-serif" font-size="9.5" fill="#1a1a1a" letter-spacing="0.45"><tspan font-family="Liberation Serif, serif" font-style="italic">μ</tspan>=-0.1 eV</text>
<path d="M51,71.8H74" stroke="#d04e64" stroke-width="1.7"/>
<text x="77" y="75.3" font-family="Liberation Sans, sans-serif" font-size="9.5" fill="#1a1a1a" letter-spacing="0.45"><tspan font-family="Liberation Serif, serif" font-style="italic">μ</tspan>=0.05 eV</text>
<path d="M51,86.6H74" stroke="#62a862" stroke-width="1.7"/>
<text x="77" y="90.1" font-family="Liberation Sans, sans-serif" font-size="9.5" fill="#1a1a1a" letter-spacing="0.45"><tspan font-family="Liberation Serif, serif" font-style="italic">μ</tspan>=2.43 eV</text>
<path d="M51,101.4H74" stroke="#f0a04c" stroke-width="1.7"/>
<text x="77" y="104.9" font-family="Liberation Sans, sans-serif" font-size="9.5" fill="#1a1a1a" letter-spacing="0.45"><tspan font-family="Liberation Serif, serif" font-style="italic">μ</tspan>=2.5 eV</text>
<path d="M51,116.2H74" stroke="#9066b0" stroke-width="1.7"/>
<text x="77" y="119.7" font-family="Liberation Sans, sans-serif" font-size="9.5" fill="#1a1a1a" letter-spacing="0.45"><tspan font-family="Liberation Serif, serif" font-style="italic">μ</tspan>=2.7 eV</text>
<rect x="198.4" y="22.5" width="106.9" height="79.8" fill="#fff"/>
<clipPath id="ci"><rect x="198.4" y="22.5" width="106.9" height="79.8"/></clipPath>
<g clip-path="url(#ci)">
<path d="M198.4,59.6 L305.3,56.8" stroke="#5580b2" stroke-width="1.5" fill="none"/>
<path d="M198.4,101.8 L305.3,101.8" stroke="#d04e64" stroke-width="2" fill="none"/>
<path d="M198.4,95.2 L198.7,95.2 L198.9,95.2 L199.2,95.2 L199.5,95.2 L199.7,95.1 L200.0,95.1 L200.3,95.1 L200.5,95.1 L200.8,95.1 L201.1,95.1 L201.3,95.0 L201.6,95.0 L201.9,95.0 L202.1,95.0 L202.4,95.0 L202.7,95.0 L202.9,94.9 L203.2,94.9 L203.5,94.9 L203.7,94.9 L204.0,94.9 L204.3,94.9 L204.5,94.8 L204.8,94.8 L205.1,94.8 L205.3,94.8 L205.6,94.8 L205.9,94.7 L206.2,94.7 L206.4,94.7 L206.7,94.7 L207.0,94.7 L207.2,94.6 L207.5,94.6 L207.8,94.6 L208.0,94.6 L208.3,94.6 L208.6,94.5 L208.8,94.5 L209.1,94.5 L209.4,94.5 L209.6,94.5 L209.9,94.4 L210.2,94.4 L210.4,94.4 L210.7,94.4 L211.0,94.3 L211.2,94.3 L211.5,94.3 L211.8,94.3 L212.0,94.3 L212.3,94.2 L212.6,94.2 L212.8,94.2 L213.1,94.2 L213.4,94.1 L213.6,94.1 L213.9,94.1 L214.2,94.1 L214.4,94.0 L214.7,94.0 L215.0,94.0 L215.2,94.0 L215.5,93.9 L215.8,93.9 L216.0,93.9 L216.3,93.8 L216.6,93.8 L216.8,93.8 L217.1,93.8 L217.4,93.7 L217.6,93.7 L217.9,93.7 L218.2,93.6 L218.4,93.6 L218.7,93.6 L219.0,93.5 L219.2,93.5 L219.5,93.5 L219.8,93.5 L220.0,93.4 L220.3,93.4 L220.6,93.4 L220.8,93.3 L221.1,93.3 L221.4,93.3 L221.7,93.2 L221.9,93.2 L222.2,93.1 L222.5,93.1 L222.7,93.1 L223.0,93.0 L223.3,93.0 L223.5,93.0 L223.8,92.9 L224.1,92.9 L224.3,92.8 L224.6,92.8 L224.9,92.8 L225.1,92.7 L225.4,92.7 L225.7,92.6 L225.9,92.6 L226.2,92.5 L226.5,92.5 L226.7,92.5 L227.0,92.4 L227.3,92.4 L227.5,92.3 L227.8,92.3 L228.1,92.2 L228.3,92.2 L228.6,92.1 L228.9,92.1 L229.1,92.0 L229.4,92.0 L229.7,91.9 L229.9,91.9 L230.2,91.8 L230.5,91.7 L230.7,91.7 L231.0,91.6 L231.3,91.6 L231.5,91.5 L231.8,91.4 L232.1,91.4 L232.3,91.3 L232.6,91.2 L232.9,91.2 L233.1,91.1 L233.4,91.0 L233.7,91.0 L233.9,90.9 L234.2,90.8 L234.5,90.7 L234.7,90.7 L235.0,90.6 L235.3,90.5 L235.5,90.4 L235.8,90.3 L236.1,90.3 L236.3,90.2 L236.6,90.1 L236.9,90.0 L237.2,89.9 L237.4,89.8 L237.7,89.7 L238.0,89.6 L238.2,89.5 L238.5,89.4 L238.8,89.2 L239.0,89.1 L239.3,89.0 L239.6,88.9 L239.8,88.8 L240.1,88.6 L240.4,88.5 L240.6,88.3 L240.9,88.2 L241.2,88.0 L241.4,87.9 L241.7,87.7 L242.0,87.6 L242.2,87.4 L242.5,87.2 L242.8,87.0 L243.0,86.8 L243.3,86.6 L243.6,86.4 L243.8,86.2 L244.1,85.9 L244.4,85.7 L244.6,85.4 L244.9,85.2 L245.2,84.9 L245.4,84.6 L245.7,84.3 L246.0,83.9 L246.2,83.5 L246.5,83.2 L246.8,82.7 L247.0,82.3 L247.3,81.8 L247.6,81.3 L247.8,80.7 L248.1,80.1 L248.4,79.4 L248.6,78.6 L248.9,77.8 L249.2,76.8 L249.4,75.7 L249.7,74.4 L250.0,72.9 L250.2,71.1 L250.5,68.9 L250.8,66.1 L251.0,62.3 L251.3,56.7 L251.6,47.5 L251.8,26.4 L252.1,47.5 L252.4,56.7 L252.7,62.3 L252.9,66.1 L253.2,68.9 L253.5,71.1 L253.7,72.9 L254.0,74.4 L254.3,75.7 L254.5,76.8 L254.8,77.8 L255.1,78.6 L255.3,79.4 L255.6,80.1 L255.9,80.7 L256.1,81.3 L256.4,81.8 L256.7,82.3 L256.9,82.7 L257.2,83.2 L257.5,83.5 L257.7,83.9 L258.0,84.3 L258.3,84.6 L258.5,84.9 L258.8,85.2 L259.1,85.4 L259.3,85.7 L259.6,85.9 L259.9,86.2 L260.1,86.4 L260.4,86.6 L260.7,86.8 L260.9,87.0 L261.2,87.2 L261.5,87.4 L261.7,87.6 L262.0,87.7 L262.3,87.9 L262.5,88.0 L262.8,88.2 L263.1,88.3 L263.3,88.5 L263.6,88.6 L263.9,88.8 L264.1,88.9 L264.4,89.0 L264.7,89.1 L264.9,89.2 L265.2,89.4 L265.5,89.5 L265.7,89.6 L266.0,89.7 L266.3,89.8 L266.5,89.9 L266.8,90.0 L267.1,90.1 L267.4,90.2 L267.6,90.3 L267.9,90.3 L268.2,90.4 L268.4,90.5 L268.7,90.6 L269.0,90.7 L269.2,90.7 L269.5,90.8 L269.8,90.9 L270.0,91.0 L270.3,91.0 L270.6,91.1 L270.8,91.2 L271.1,91.2 L271.4,91.3 L271.6,91.4 L271.9,91.4 L272.2,91.5 L272.4,91.6 L272.7,91.6 L273.0,91.7 L273.2,91.7 L273.5,91.8 L273.8,91.9 L274.0,91.9 L274.3,92.0 L274.6,92.0 L274.8,92.1 L275.1,92.1 L275.4,92.2 L275.6,92.2 L275.9,92.3 L276.2,92.3 L276.4,92.4 L276.7,92.4 L277.0,92.5 L277.2,92.5 L277.5,92.5 L277.8,92.6 L278.0,92.6 L278.3,92.7 L278.6,92.7 L278.8,92.8 L279.1,92.8 L279.4,92.8 L279.6,92.9 L279.9,92.9 L280.2,93.0 L280.4,93.0 L280.7,93.0 L281.0,93.1 L281.2,93.1 L281.5,93.1 L281.8,93.2 L282.0,93.2 L282.3,93.3 L282.6,93.3 L282.9,93.3 L283.1,93.4 L283.4,93.4 L283.7,93.4 L283.9,93.5 L284.2,93.5 L284.5,93.5 L284.7,93.5 L285.0,93.6 L285.3,93.6 L285.5,93.6 L285.8,93.7 L286.1,93.7 L286.3,93.7 L286.6,93.8 L286.9,93.8 L287.1,93.8 L287.4,93.8 L287.7,93.9 L287.9,93.9 L288.2,93.9 L288.5,94.0 L288.7,94.0 L289.0,94.0 L289.3,94.0 L289.5,94.1 L289.8,94.1 L290.1,94.1 L290.3,94.1 L290.6,94.2 L290.9,94.2 L291.1,94.2 L291.4,94.2 L291.7,94.3 L291.9,94.3 L292.2,94.3 L292.5,94.3 L292.7,94.3 L293.0,94.4 L293.3,94.4 L293.5,94.4 L293.8,94.4 L294.1,94.5 L294.3,94.5 L294.6,94.5 L294.9,94.5 L295.1,94.5 L295.4,94.6 L295.7,94.6 L295.9,94.6 L296.2,94.6 L296.5,94.6 L296.7,94.7 L297.0,94.7 L297.3,94.7 L297.5,94.7 L297.8,94.7 L298.1,94.8 L298.4,94.8 L298.6,94.8 L298.9,94.8 L299.2,94.8 L299.4,94.9 L299.7,94.9 L300.0,94.9 L300.2,94.9 L300.5,94.9 L300.8,94.9 L301.0,95.0 L301.3,95.0 L301.6,95.0 L301.8,95.0 L302.1,95.0 L302.4,95.0 L302.6,95.1 L302.9,95.1 L303.2,95.1 L303.4,95.1 L303.7,95.1 L304.0,95.1 L304.2,95.2 L304.5,95.2 L304.8,95.2 L305.0,95.2 L305.3,95.2" stroke="#62a862" stroke-width="1.5" fill="none"/>
<path d="M198.4,78.3 L198.9,78.2 L199.5,78.1 L200.0,78.1 L200.5,78.0 L201.1,77.9 L201.6,77.8 L202.1,77.7 L202.7,77.6 L203.2,77.5 L203.7,77.4 L204.3,77.3 L204.8,77.2 L205.3,77.1 L205.9,77.0 L206.4,76.9 L207.0,76.8 L207.5,76.6 L208.0,76.5 L208.6,76.4 L209.1,76.3 L209.6,76.1 L210.2,76.0 L210.7,75.9 L211.2,75.7 L211.8,75.6 L212.3,75.4 L212.8,75.3 L213.4,75.1 L213.9,75.0 L214.4,74.8 L215.0,74.6 L215.5,74.5 L216.0,74.3 L216.6,74.1 L217.1,74.0 L217.6,73.8 L218.2,73.6 L218.7,73.4 L219.2,73.2 L219.8,73.0 L220.3,72.8 L220.8,72.6 L221.4,72.4 L221.9,72.2 L222.5,72.0 L223.0,71.8 L223.5,71.6 L224.1,71.4 L224.6,71.2 L225.1,71.0 L225.7,70.7 L226.2,70.5 L226.7,70.3 L227.3,70.1 L227.8,69.8 L228.3,69.6 L228.9,69.4 L229.4,69.2 L229.9,68.9 L230.5,68.7 L231.0,68.5 L231.5,68.3 L232.1,68.0 L232.6,67.8 L233.1,67.6 L233.7,67.4 L234.2,67.2 L234.7,67.0 L235.3,66.8 L235.8,66.6 L236.3,66.4 L236.9,66.2 L237.4,66.1 L238.0,65.9 L238.5,65.8 L239.0,65.6 L239.6,65.5 L240.1,65.3 L240.6,65.2 L241.2,65.1 L241.7,65.0 L242.2,65.0 L242.8,64.9 L243.3,64.8 L243.8,64.8 L244.4,64.7 L244.9,64.7 L245.4,64.7 L246.0,64.7 L246.5,64.7 L247.0,64.8 L247.6,64.8 L248.1,64.9 L248.6,65.0 L249.2,65.0 L249.7,65.1 L250.2,65.3 L250.8,65.4 L251.3,65.5 L251.8,65.7 L252.4,65.8 L252.9,66.0 L253.5,66.2 L254.0,66.3 L254.5,66.5 L255.1,66.7 L255.6,67.0 L256.1,67.2 L256.7,67.4 L257.2,67.6 L257.7,67.9 L258.3,68.1 L258.8,68.4 L259.3,68.6 L259.9,68.9 L260.4,69.1 L260.9,69.4 L261.5,69.6 L262.0,69.9 L262.5,70.2 L263.1,70.4 L263.6,70.7 L264.1,70.9 L264.7,71.2 L265.2,71.5 L265.7,71.7 L266.3,72.0 L266.8,72.3 L267.4,72.5 L267.9,72.8 L268.4,73.0 L269.0,73.3 L269.5,73.5 L270.0,73.8 L270.6,74.0 L271.1,74.3 L271.6,74.5 L272.2,74.7 L272.7,75.0 L273.2,75.2 L273.8,75.4 L274.3,75.7 L274.8,75.9 L275.4,76.1 L275.9,76.3 L276.4,76.5 L277.0,76.7 L277.5,76.9 L278.0,77.1 L278.6,77.3 L279.1,77.5 L279.6,77.7 L280.2,77.9 L280.7,78.1 L281.2,78.3 L281.8,78.4 L282.3,78.6 L282.9,78.8 L283.4,78.9 L283.9,79.1 L284.5,79.3 L285.0,79.4 L285.5,79.6 L286.1,79.7 L286.6,79.9 L287.1,80.0 L287.7,80.2 L288.2,80.3 L288.7,80.5 L289.3,80.6 L289.8,80.7 L290.3,80.9 L290.9,81.0 L291.4,81.1 L291.9,81.3 L292.5,81.4 L293.0,81.5 L293.5,81.6 L294.1,81.8 L294.6,81.9 L295.1,82.0 L295.7,82.1 L296.2,82.2 L296.7,82.3 L297.3,82.4 L297.8,82.5 L298.4,82.6 L298.9,82.7 L299.4,82.8 L300.0,82.9 L300.5,83.0 L301.0,83.1 L301.6,83.2 L302.1,83.3 L302.6,83.4 L303.2,83.5 L303.7,83.6 L304.2,83.7 L304.8,83.7 L305.3,83.8" stroke="#f0a04c" stroke-width="1.5" fill="none"/>
<path d="M198.4,72.7 L305.3,78.0" stroke="#9066b0" stroke-width="1.5" fill="none"/>
</g>
<rect x="198.4" y="22.5" width="106.9" height="79.8" fill="none" stroke="#333" stroke-width="1"/>
<path d="M251.8,102.3v-2.5M251.8,22.5v2.5M198.4,67.8h2.5M305.3,67.8h-2.5M198.4,33.3h2.5M305.3,33.3h-2.5" stroke="#333" stroke-width="1" fill="none"/>
<text x="194" y="105.5" font-family="Liberation Sans, sans-serif" font-size="9" text-anchor="end">0</text>
<text x="194" y="71.0" font-family="Liberation Sans, sans-serif" font-size="9" text-anchor="end">50</text>
<text x="194" y="36.5" font-family="Liberation Sans, sans-serif" font-size="9" text-anchor="end">100</text>
<text x="198.4" y="114.6" font-family="Liberation Sans, sans-serif" font-size="9.3" text-anchor="middle">-1</text>
<text x="251.8" y="114.6" font-family="Liberation Sans, sans-serif" font-size="9.3" text-anchor="middle">0</text>
<text x="305.3" y="114.6" font-family="Liberation Sans, sans-serif" font-size="9.3" text-anchor="middle">1</text>
<text x="252" y="127.3" font-family="Liberation Sans, sans-serif" font-size="10" text-anchor="middle"><tspan font-family="Liberation Serif, serif" font-style="italic">ω</tspan> (meV)</text>
<text transform="translate(174.2,60.5) rotate(-90)" font-family="Liberation Sans, sans-serif" font-size="9.1" text-anchor="middle">A(<tspan font-family="Liberation Serif, serif" font-style="italic">ω</tspan>) (a.u.)</text>
<g clip-path="url(#cb)">
<path d="M379.0,187.0 L379.5,187.0 L380.0,187.0 L380.5,187.0 L381.0,187.0 L381.5,187.0 L382.0,187.0 L382.5,187.0 L383.0,187.0 L383.5,187.0 L384.0,187.0 L384.5,187.0 L385.0,187.0 L385.5,187.0 L386.1,187.0 L386.6,187.0 L387.2,187.0 L387.7,187.0 L388.3,187.0 L388.8,187.0 L389.4,187.0 L389.9,186.9 L390.5,186.8 L391.0,186.7 L391.6,186.5 L392.3,186.2 L393.0,185.9 L393.6,185.5 L394.3,185.1 L395.0,184.6 L395.7,184.1 L396.4,183.6 L397.0,183.0 L397.7,182.5 L398.4,181.9 L399.0,181.4 L399.7,180.8 L400.4,180.2 L401.1,179.6 L401.8,178.9 L402.5,178.2 L403.2,177.6 L403.9,176.9 L404.5,176.2 L405.2,175.5 L405.9,174.8 L406.5,174.1 L407.2,173.4 L407.8,172.7 L408.4,172.1 L409.0,171.5 L409.5,170.9 L410.1,170.3 L410.6,169.7 L411.2,169.1 L411.7,168.5 L412.3,167.9 L412.8,167.3 L413.3,166.6 L413.8,166.0 L414.3,165.4 L414.7,164.8 L415.2,164.2 L415.6,163.6 L416.0,163.0 L416.4,162.4 L416.8,161.8 L417.2,161.2 L417.6,160.6 L418.0,160.0 L418.4,159.4 L418.7,158.7 L419.1,158.1 L419.5,157.5 L419.8,156.8 L420.2,156.2 L420.5,155.6 L420.9,155.0 L421.2,154.3 L421.5,153.7 L421.9,153.0 L422.2,152.3 L422.5,151.6 L422.9,150.8 L423.2,150.0 L423.7,148.6 L424.2,147.1 L424.7,145.5 L425.2,143.8 L425.7,142.0 L426.2,140.2 L426.7,138.3 L427.2,136.5 L427.7,134.7 L428.2,133.1 L428.6,131.5 L429.1,130.0 L429.4,129.0 L429.7,128.1 L430.1,127.2 L430.4,126.3 L430.7,125.5 L431.0,124.7 L431.3,123.8 L431.6,123.0 L431.9,122.2 L432.2,121.4 L432.5,120.6 L432.8,119.7 L433.1,118.8 L433.4,117.9 L433.7,116.9 L434.0,116.0 L434.3,115.0 L434.6,114.1 L434.8,113.1 L435.1,112.2 L435.4,111.3 L435.8,110.4 L436.1,109.5 L436.4,108.7 L436.7,108.0 L437.0,107.4 L437.2,106.7 L437.5,106.1 L437.8,105.4 L438.1,104.8 L438.4,104.2 L438.7,103.6 L439.0,103.1 L439.4,102.5 L439.7,101.9 L440.1,101.4 L440.5,100.9 L440.9,100.4 L441.3,99.8 L441.7,99.3 L442.1,98.9 L442.6,98.4 L443.0,97.9 L443.5,97.5 L444.0,97.0 L444.5,96.6 L445.0,96.3 L445.5,95.9 L446.0,95.6 L446.6,95.3 L447.2,95.0 L447.8,94.7 L448.4,94.5 L449.0,94.3 L449.7,94.1 L450.3,93.9 L450.9,93.7 L451.6,93.5 L452.2,93.4 L452.8,93.2 L453.4,93.0 L454.0,92.9 L454.5,92.8 L455.1,92.6 L455.6,92.5 L456.2,92.4 L456.8,92.3 L457.4,92.2 L458.0,92.1 L458.7,92.1 L459.4,92.0 L460.1,91.9 L461.4,91.8 L462.8,91.7 L464.3,91.6 L465.8,91.6 L467.4,91.5 L469.1,91.5 L470.8,91.5 L472.6,91.5 L474.4,91.5 L476.2,91.5 L478.1,91.4 L480.0,91.4 L482.6,91.4 L485.3,91.3 L488.2,91.3 L491.1,91.3 L494.1,91.3 L497.1,91.2 L500.2,91.2 L503.3,91.2 L506.3,91.2 L509.2,91.1 L512.1,91.1 L514.8,91.0 L517.1,90.9 L519.3,90.8 L521.5,90.7 L523.8,90.6 L525.9,90.5 L528.1,90.4 L530.2,90.3 L532.3,90.2 L534.3,90.1 L536.2,90.0 L538.2,90.0 L540.0,89.9 L541.4,89.9 L542.7,89.9 L543.9,89.9 L545.2,89.9 L546.4,89.9 L547.5,89.9 L548.7,89.9 L549.9,89.9 L551.0,89.9 L552.2,89.9 L553.4,89.9 L554.6,89.8 L555.8,89.7 L557.1,89.6 L558.3,89.5 L559.5,89.4 L560.8,89.3 L562.0,89.2 L563.2,89.1 L564.4,88.9 L565.7,88.8 L566.9,88.6 L568.0,88.4 L569.2,88.2 L570.3,88.0 L571.3,87.8 L572.4,87.5 L573.4,87.3 L574.5,87.0 L575.5,86.8 L576.5,86.5 L577.5,86.2 L578.5,85.9 L579.5,85.6 L580.4,85.4 L581.3,85.1 L582.0,84.9 L582.7,84.6 L583.3,84.4 L584.0,84.1 L584.6,83.8 L585.2,83.6 L585.8,83.3 L586.4,83.1 L587.0,82.9 L587.5,82.8 L588.1,82.7 L588.6,82.6 L589.0,82.6 L589.3,82.6 L589.6,82.6 L589.9,82.6 L590.2,82.6 L590.5,82.7 L590.8,82.7 L591.1,82.8 L591.4,82.9 L591.7,83.1 L592.0,83.2 L592.3,83.4 L592.7,83.7 L593.2,84.2 L593.6,84.6 L594.0,85.2 L594.5,85.8 L594.9,86.4 L595.3,87.1 L595.7,87.8 L596.0,88.5 L596.4,89.2 L596.8,90.0 L597.1,90.7 L597.5,91.6 L597.9,92.7 L598.2,93.7 L598.6,94.8 L598.9,95.9 L599.2,97.1 L599.5,98.3 L599.8,99.4 L600.0,100.6 L600.3,101.8 L600.5,102.9 L600.8,104.0 L601.0,105.0 L601.3,106.0 L601.5,107.0 L601.7,108.0 L601.9,109.0 L602.1,110.0 L602.3,111.0 L602.5,112.0 L602.6,113.0 L602.8,114.1 L603.0,115.1 L603.2,116.2 L603.4,117.5 L603.6,118.7 L603.9,120.1 L604.1,121.4 L604.3,122.8 L604.5,124.1 L604.7,125.5 L604.9,126.9 L605.1,128.2 L605.3,129.5 L605.5,130.8 L605.7,132.0 L605.9,133.0 L606.0,134.0 L606.1,135.0 L606.3,136.0 L606.4,136.9 L606.5,137.9 L606.6,138.8 L606.8,139.7 L606.9,140.6 L607.1,141.4 L607.3,142.2 L607.5,143.0 L607.7,143.6 L607.9,144.2 L608.0,144.8 L608.2,145.4 L608.5,146.0 L608.7,146.6 L608.9,147.1 L609.1,147.6 L609.3,148.0 L609.5,148.3 L609.7,148.4 L609.9,148.5 L610.1,148.4 L610.3,148.1 L610.5,147.6 L610.7,147.0 L610.9,146.3 L611.1,145.4 L611.3,144.6 L611.5,143.6 L611.7,142.7 L611.9,141.8 L612.0,140.9 L612.2,140.0 L612.4,138.9 L612.6,137.6 L612.7,136.3 L612.9,134.9 L613.0,133.5 L613.2,132.1 L613.3,130.7 L613.4,129.3 L613.6,128.1 L613.8,126.9 L614.0,125.9 L614.2,125.0 L614.3,124.6 L614.5,124.2 L614.6,123.8 L614.7,123.4 L614.9,123.1 L615.0,122.7 L615.2,122.4 L615.3,122.2 L615.5,122.0 L615.6,121.8 L615.8,121.7 L615.9,121.7 L616.1,121.8 L616.2,122.0 L616.4,122.3 L616.6,122.7 L616.8,123.2 L616.9,123.8 L617.1,124.5 L617.2,125.1 L617.4,125.8 L617.5,126.6 L617.7,127.3 L617.8,128.0 L618.0,129.5 L618.2,131.2 L618.4,133.1 L618.5,135.2 L618.7,137.3 L618.8,139.6 L618.9,141.8 L619.0,144.1 L619.2,146.3 L619.3,148.4 L619.5,150.3 L619.7,152.1 L619.9,153.3 L620.1,154.4 L620.3,155.5 L620.5,156.6 L620.7,157.6 L620.9,158.6 L621.1,159.6 L621.3,160.6 L621.5,161.5 L621.7,162.5 L621.9,163.4 L622.1,164.3 L622.2,165.0 L622.4,165.7 L622.5,166.3 L622.6,166.9 L622.7,167.5 L622.8,168.1 L623.0,168.7 L623.1,169.3 L623.2,169.9 L623.3,170.6 L623.4,171.3 L623.5,172.0 L623.6,173.1 L623.7,174.3 L623.7,175.7 L623.7,177.1 L623.7,178.6 L623.7,180.0 L623.8,181.4 L623.9,182.8 L624.0,184.0 L624.2,185.0 L624.6,185.9 L625.0,186.5 L625.3,186.8 L625.6,186.9 L626.0,187.0 L626.3,187.1 L626.7,187.1 L627.1,187.1 L627.5,187.1 L628.0,187.1 L628.4,187.0 L628.9,187.0 L629.5,187.0 L630.0,187.0 L631.2,187.0 L632.6,187.1 L634.1,187.1 L635.7,187.1 L637.4,187.1 L639.2,187.1 L641.0,187.1 L642.8,187.0 L644.7,187.0 L646.5,187.0 L648.3,187.0 L650.0,187.0" fill="none" stroke="#5580b2" stroke-width="1.5" stroke-linejoin="round" />
<path d="M379.0,187.0 L379.1,187.0 L379.2,186.9 L379.3,186.9 L379.4,186.9 L379.5,186.8 L379.6,186.8 L379.7,186.8 L379.8,186.7 L379.9,186.7 L380.0,186.6 L380.1,186.6 L380.2,186.5 L380.5,186.3 L380.8,186.1 L381.1,185.9 L381.4,185.6 L381.8,185.3 L382.1,184.9 L382.5,184.6 L382.9,184.3 L383.2,184.0 L383.6,183.7 L384.0,183.4 L384.3,183.2 L384.6,183.0 L384.8,182.8 L385.1,182.7 L385.4,182.5 L385.6,182.3 L385.9,182.1 L386.2,182.0 L386.4,181.9 L386.7,181.8 L387.0,181.7 L387.2,181.6 L387.5,181.6 L387.8,181.6 L388.0,181.7 L388.3,181.8 L388.6,181.9 L388.9,182.0 L389.1,182.2 L389.4,182.4 L389.7,182.5 L390.0,182.7 L390.3,182.9 L390.5,183.1 L390.8,183.2 L391.1,183.3 L391.3,183.5 L391.6,183.7 L391.9,183.9 L392.1,184.1 L392.4,184.3 L392.7,184.4 L392.9,184.6 L393.2,184.7 L393.5,184.8 L393.7,184.8 L394.0,184.8 L394.3,184.7 L394.7,184.5 L395.0,184.3 L395.4,184.0 L395.7,183.7 L396.1,183.3 L396.4,182.9 L396.8,182.5 L397.1,182.1 L397.5,181.6 L397.8,181.2 L398.1,180.8 L398.5,180.3 L398.8,179.8 L399.2,179.3 L399.5,178.8 L399.8,178.2 L400.2,177.7 L400.5,177.1 L400.8,176.5 L401.2,175.9 L401.5,175.4 L401.8,174.8 L402.1,174.3 L402.4,173.8 L402.7,173.3 L402.9,172.8 L403.2,172.3 L403.4,171.7 L403.7,171.2 L403.9,170.7 L404.2,170.3 L404.5,169.8 L404.8,169.4 L405.1,169.0 L405.4,168.6 L405.7,168.3 L406.0,168.1 L406.3,167.9 L406.7,167.7 L407.0,167.6 L407.4,167.4 L407.8,167.2 L408.1,167.1 L408.5,166.9 L408.8,166.7 L409.1,166.5 L409.4,166.2 L409.7,165.8 L410.0,165.4 L410.3,165.0 L410.6,164.5 L410.9,164.0 L411.2,163.4 L411.4,162.9 L411.7,162.4 L411.9,161.9 L412.2,161.4 L412.4,160.9 L412.7,160.5 L412.9,160.2 L413.1,159.8 L413.3,159.5 L413.5,159.1 L413.7,158.8 L413.9,158.5 L414.1,158.1 L414.3,157.9 L414.5,157.6 L414.7,157.5 L414.9,157.4 L415.1,157.3 L415.2,157.3 L415.4,157.3 L415.5,157.4 L415.7,157.5 L415.8,157.6 L415.9,157.8 L416.1,157.9 L416.2,158.1 L416.3,158.3 L416.5,158.5 L416.6,158.7 L416.7,158.9 L417.0,159.4 L417.2,160.1 L417.4,160.9 L417.6,161.7 L417.8,162.6 L418.0,163.6 L418.2,164.6 L418.3,165.6 L418.5,166.6 L418.7,167.6 L418.9,168.5 L419.1,169.4 L419.3,170.2 L419.5,171.1 L419.7,171.9 L419.9,172.8 L420.1,173.6 L420.3,174.4 L420.5,175.2 L420.7,176.1 L421.0,176.9 L421.2,177.7 L421.4,178.4 L421.6,179.2 L421.8,179.9 L421.9,180.6 L422.1,181.3 L422.2,182.0 L422.4,182.7 L422.5,183.4 L422.7,184.0 L422.8,184.6 L423.1,185.2 L423.3,185.7 L423.6,186.1 L424.0,186.5 L424.3,186.7 L424.7,186.9 L425.1,187.0 L425.4,187.1 L425.8,187.1 L426.3,187.1 L426.7,187.1 L427.3,187.1 L427.9,187.0 L428.5,187.0 L429.2,187.0 L430.0,187.0 L436.1,187.2 L445.7,187.3 L458.1,187.4 L472.6,187.5 L488.5,187.5 L505.0,187.5 L521.6,187.5 L537.5,187.5 L551.9,187.4 L564.3,187.3 L573.9,187.2 L580.0,187.0 L580.8,187.0 L581.5,187.0 L582.1,187.0 L582.7,187.0 L583.2,187.1 L583.7,187.1 L584.1,187.1 L584.5,187.1 L584.9,187.0 L585.3,186.9 L585.6,186.7 L585.9,186.5 L586.2,186.2 L586.5,185.8 L586.7,185.4 L586.8,184.9 L586.9,184.4 L587.0,183.8 L587.1,183.2 L587.2,182.6 L587.3,182.0 L587.3,181.3 L587.4,180.7 L587.5,180.0 L587.6,179.0 L587.8,177.9 L587.9,176.8 L588.0,175.6 L588.0,174.4 L588.1,173.1 L588.2,171.8 L588.2,170.5 L588.3,169.2 L588.4,167.8 L588.4,166.4 L588.5,165.0 L588.6,163.2 L588.7,161.3 L588.8,159.3 L588.9,157.4 L589.0,155.3 L589.0,153.3 L589.1,151.2 L589.2,149.0 L589.3,146.8 L589.4,144.6 L589.4,142.3 L589.5,140.0 L589.6,137.0 L589.7,133.9 L589.7,130.8 L589.8,127.5 L589.9,124.2 L590.0,120.9 L590.0,117.5 L590.1,114.0 L590.1,110.5 L590.2,107.0 L590.2,103.5 L590.3,100.0 L590.4,96.0 L590.4,92.0 L590.5,87.9 L590.5,83.7 L590.5,79.6 L590.6,75.3 L590.6,71.1 L590.7,66.9 L590.7,62.6 L590.7,58.4 L590.8,54.2 L590.8,50.0 L590.8,45.8 L590.9,41.7 L590.9,37.5 L590.9,33.3 L590.9,29.2 L591.0,25.0 L591.0,20.8 L591.0,16.7 L591.0,12.5 L591.1,8.3 L591.1,4.2 L591.1,0.0" fill="none" stroke="#d04e64" stroke-width="1.5" stroke-linejoin="round" />
<path d="M603.6,0.0 L603.6,4.2 L603.7,8.3 L603.7,12.5 L603.7,16.7 L603.8,20.8 L603.8,25.0 L603.8,29.2 L603.9,33.3 L603.9,37.5 L603.9,41.7 L604.0,45.8 L604.0,50.0 L604.0,54.2 L604.1,58.5 L604.1,62.8 L604.1,67.1 L604.1,71.5 L604.1,75.8 L604.2,80.1 L604.2,84.3 L604.2,88.4 L604.3,92.4 L604.3,96.3 L604.4,100.0 L604.5,102.8 L604.5,105.5 L604.6,108.2 L604.7,110.8 L604.8,113.3 L604.9,115.9 L605.0,118.3 L605.1,120.7 L605.2,123.1 L605.3,125.4 L605.4,127.7 L605.5,130.0 L605.6,131.8 L605.7,133.6 L605.8,135.3 L605.8,137.0 L605.9,138.6 L606.0,140.3 L606.1,141.9 L606.2,143.5 L606.3,145.1 L606.4,146.7 L606.4,148.3 L606.5,150.0 L606.6,151.7 L606.6,153.4 L606.7,155.1 L606.7,156.9 L606.7,158.6 L606.8,160.3 L606.8,162.0 L606.8,163.7 L606.9,165.4 L606.9,167.0 L606.9,168.5 L607.0,170.0 L607.0,171.1 L607.1,172.2 L607.1,173.4 L607.2,174.4 L607.2,175.5 L607.3,176.6 L607.3,177.6 L607.4,178.5 L607.4,179.5 L607.5,180.4 L607.5,181.2 L607.6,182.0 L607.6,182.5 L607.6,182.9 L607.6,183.4 L607.6,183.8 L607.6,184.2 L607.6,184.6 L607.6,185.0 L607.6,185.4 L607.6,185.7 L607.7,186.0 L607.8,186.3 L608.0,186.5 L608.2,186.7 L608.4,186.8 L608.7,186.9 L608.9,186.9 L609.2,187.0 L609.5,187.0 L609.9,187.0 L610.2,187.0 L610.6,187.0 L611.1,187.0 L611.5,187.0 L612.0,187.0 L613.8,187.1 L616.1,187.1 L618.8,187.2 L621.8,187.2 L625.1,187.2 L628.6,187.1 L632.2,187.1 L635.9,187.1 L639.6,187.1 L643.2,187.0 L646.7,187.0 L650.0,187.0" fill="none" stroke="#d04e64" stroke-width="1.5" stroke-linejoin="round" />
<path d="M379.0,187.0 L382.1,187.0 L385.3,187.0 L388.5,187.0 L391.8,187.0 L395.1,187.0 L398.4,187.0 L401.6,187.0 L404.7,187.0 L407.6,187.0 L410.3,187.0 L412.8,187.0 L415.0,187.0 L416.0,187.0 L417.0,187.0 L417.9,187.0 L418.8,187.0 L419.6,187.1 L420.4,187.1 L421.1,187.1 L421.9,187.1 L422.6,187.0 L423.4,187.0 L424.2,186.9 L425.0,186.8 L425.9,186.7 L426.9,186.5 L427.8,186.3 L428.7,186.1 L429.7,185.9 L430.6,185.6 L431.6,185.3 L432.5,185.0 L433.5,184.7 L434.4,184.3 L435.3,183.9 L436.2,183.5 L437.2,183.0 L438.1,182.4 L439.1,181.8 L440.1,181.1 L441.0,180.4 L442.0,179.7 L442.9,178.9 L443.8,178.2 L444.7,177.4 L445.6,176.6 L446.4,175.8 L447.3,175.0 L448.1,174.2 L448.9,173.4 L449.7,172.6 L450.5,171.8 L451.2,171.0 L452.0,170.1 L452.7,169.3 L453.4,168.4 L454.2,167.6 L454.8,166.7 L455.5,165.9 L456.2,165.0 L456.8,164.2 L457.4,163.4 L458.0,162.6 L458.6,161.7 L459.2,160.9 L459.7,160.1 L460.3,159.3 L460.8,158.4 L461.3,157.6 L461.9,156.8 L462.4,155.9 L462.9,155.1 L463.4,154.3 L463.9,153.5 L464.4,152.6 L464.9,151.8 L465.4,151.0 L465.8,150.2 L466.3,149.3 L466.8,148.5 L467.2,147.6 L467.7,146.8 L468.1,145.9 L468.5,145.0 L468.9,144.1 L469.3,143.1 L469.7,142.1 L470.1,141.2 L470.5,140.2 L470.9,139.2 L471.3,138.2 L471.6,137.2 L472.0,136.1 L472.3,135.1 L472.7,134.1 L473.0,133.0 L473.4,131.8 L473.7,130.6 L474.1,129.4 L474.4,128.2 L474.8,126.9 L475.1,125.7 L475.4,124.4 L475.7,123.1 L476.1,121.8 L476.4,120.6 L476.7,119.3 L477.0,118.0 L477.3,116.7 L477.6,115.4 L477.9,114.0 L478.2,112.7 L478.5,111.4 L478.8,110.0 L479.1,108.7 L479.4,107.3 L479.7,106.0 L480.0,104.6 L480.2,103.3 L480.5,102.0 L480.7,100.7 L481.0,99.5 L481.2,98.2 L481.4,97.0 L481.7,95.7 L481.9,94.5 L482.1,93.2 L482.3,92.0 L482.5,90.7 L482.8,89.5 L483.0,88.2 L483.2,87.0 L483.4,85.8 L483.7,84.5 L483.9,83.3 L484.1,82.0 L484.4,80.8 L484.6,79.5 L484.8,78.3 L485.1,77.0 L485.3,75.8 L485.5,74.5 L485.8,73.3 L486.0,72.0 L486.2,70.7 L486.5,69.4 L486.7,68.1 L486.9,66.8 L487.2,65.5 L487.4,64.2 L487.6,62.9 L487.9,61.5 L488.1,60.2 L488.4,58.9 L488.6,57.5 L488.9,56.2 L489.2,54.8 L489.5,53.3 L489.8,51.8 L490.1,50.3 L490.4,48.8 L490.7,47.3 L491.1,45.8 L491.4,44.3 L491.7,42.9 L492.1,41.5 L492.4,40.1 L492.8,38.8 L493.1,37.8 L493.4,36.8 L493.7,35.8 L494.0,34.8 L494.3,33.9 L494.6,33.0 L494.9,32.1 L495.2,31.2 L495.5,30.3 L495.9,29.5 L496.3,28.7 L496.7,28.0 L497.0,27.4 L497.4,26.9 L497.7,26.3 L498.1,25.8 L498.5,25.2 L498.9,24.8 L499.3,24.3 L499.7,23.8 L500.1,23.4 L500.6,23.0 L501.0,22.7 L501.5,22.4 L502.0,22.2 L502.4,22.0 L502.9,21.8 L503.5,21.7 L504.0,21.6 L504.5,21.5 L505.1,21.4 L505.6,21.4 L506.2,21.3 L506.7,21.3 L507.3,21.2 L507.8,21.2 L508.4,21.2 L509.0,21.1 L509.6,21.1 L510.2,21.1 L510.8,21.1 L511.4,21.1 L512.0,21.1 L512.6,21.1 L513.2,21.2 L513.7,21.2 L514.3,21.2 L514.8,21.3 L515.2,21.4 L515.6,21.4 L516.0,21.5 L516.3,21.5 L516.7,21.6 L517.0,21.7 L517.4,21.8 L517.7,21.9 L518.0,22.0 L518.4,22.1 L518.7,22.2 L519.0,22.3 L519.3,22.4 L519.5,22.5 L519.8,22.7 L520.0,22.8 L520.3,23.0 L520.5,23.1 L520.8,23.3 L521.0,23.4 L521.2,23.6 L521.5,23.8 L521.7,24.0 L522.0,24.2 L522.4,24.5 L522.8,24.8 L523.2,25.2 L523.6,25.5 L524.1,25.9 L524.5,26.3 L524.9,26.7 L525.3,27.2 L525.8,27.6 L526.2,28.1 L526.5,28.5 L526.9,29.0 L527.3,29.5 L527.6,30.1 L528.0,30.6 L528.3,31.2 L528.6,31.8 L528.9,32.4 L529.2,33.1 L529.5,33.7 L529.7,34.3 L530.0,35.0 L530.3,35.6 L530.5,36.3 L530.8,37.0 L531.0,37.8 L531.2,38.6 L531.5,39.4 L531.7,40.2 L531.9,41.0 L532.0,41.9 L532.2,42.7 L532.4,43.5 L532.6,44.4 L532.8,45.2 L533.0,46.0 L533.2,46.8 L533.4,47.6 L533.6,48.4 L533.8,49.2 L534.0,50.0 L534.2,50.8 L534.4,51.6 L534.6,52.4 L534.8,53.3 L535.0,54.1 L535.2,54.9 L535.4,55.8 L535.6,56.8 L535.8,57.7 L536.0,58.7 L536.2,59.7 L536.4,60.7 L536.6,61.7 L536.8,62.7 L537.0,63.8 L537.2,64.8 L537.4,65.9 L537.6,66.9 L537.8,68.0 L538.0,69.3 L538.2,70.5 L538.4,71.8 L538.7,73.2 L538.9,74.5 L539.1,75.9 L539.3,77.2 L539.5,78.6 L539.7,80.0 L539.9,81.3 L540.2,82.7 L540.4,84.0 L540.6,85.3 L540.9,86.7 L541.1,88.0 L541.4,89.3 L541.6,90.7 L541.9,92.0 L542.2,93.3 L542.4,94.7 L542.7,96.0 L543.0,97.3 L543.2,98.7 L543.5,100.0 L543.8,101.3 L544.1,102.7 L544.3,104.0 L544.6,105.4 L544.9,106.7 L545.2,108.0 L545.5,109.4 L545.8,110.7 L546.1,112.0 L546.4,113.4 L546.7,114.7 L547.0,116.0 L547.3,117.3 L547.6,118.5 L547.9,119.8 L548.1,121.1 L548.4,122.4 L548.7,123.6 L549.0,124.9 L549.3,126.1 L549.6,127.4 L549.9,128.6 L550.2,129.8 L550.5,131.0 L550.8,132.1 L551.1,133.1 L551.3,134.1 L551.6,135.1 L551.9,136.1 L552.2,137.1 L552.4,138.1 L552.7,139.1 L553.0,140.0 L553.3,141.0 L553.7,142.0 L554.0,143.0 L554.3,144.0 L554.7,145.0 L555.0,146.1 L555.3,147.1 L555.7,148.1 L556.0,149.2 L556.4,150.2 L556.8,151.2 L557.3,152.2 L557.7,153.1 L558.2,154.1 L558.8,155.0 L559.4,155.9 L560.2,156.9 L560.9,157.8 L561.7,158.6 L562.6,159.5 L563.4,160.4 L564.3,161.2 L565.2,162.0 L566.1,162.8 L566.9,163.6 L567.7,164.3 L568.5,165.0 L569.1,165.5 L569.6,166.1 L570.2,166.6 L570.7,167.1 L571.3,167.6 L571.8,168.0 L572.3,168.5 L572.9,168.9 L573.4,169.3 L573.9,169.7 L574.5,170.1 L575.0,170.5 L575.5,170.8 L575.9,171.1 L576.4,171.4 L576.9,171.7 L577.3,172.0 L577.8,172.2 L578.3,172.5 L578.7,172.7 L579.2,172.9 L579.7,173.1 L580.1,173.3 L580.6,173.4 L581.0,173.5 L581.5,173.6 L581.9,173.7 L582.4,173.8 L582.9,173.9 L583.3,173.9 L583.8,173.9 L584.2,173.9 L584.7,173.9 L585.1,173.9 L585.5,173.8 L585.9,173.7 L586.3,173.6 L586.6,173.4 L587.0,173.2 L587.3,172.9 L587.6,172.7 L587.9,172.4 L588.2,172.1 L588.6,171.8 L588.9,171.5 L589.2,171.2 L589.5,171.0 L589.8,170.8 L590.1,170.6 L590.3,170.5 L590.6,170.3 L590.9,170.1 L591.1,169.9 L591.4,169.8 L591.7,169.7 L591.9,169.5 L592.2,169.4 L592.5,169.4 L592.7,169.3 L593.0,169.3 L593.3,169.3 L593.5,169.4 L593.8,169.5 L594.1,169.6 L594.4,169.7 L594.6,169.9 L594.9,170.1 L595.2,170.3 L595.4,170.5 L595.7,170.7 L596.0,170.9 L596.3,171.1 L596.7,171.4 L597.1,171.8 L597.5,172.2 L598.0,172.6 L598.4,173.1 L598.8,173.5 L599.3,174.0 L599.7,174.4 L600.1,174.9 L600.6,175.3 L601.0,175.7 L601.5,176.0 L601.9,176.3 L602.3,176.5 L602.7,176.8 L603.1,177.0 L603.6,177.2 L604.0,177.5 L604.4,177.7 L604.9,177.9 L605.3,178.0 L605.8,178.2 L606.2,178.4 L606.7,178.6 L607.3,178.8 L607.9,179.0 L608.5,179.2 L609.2,179.4 L609.8,179.5 L610.5,179.7 L611.1,179.9 L611.8,180.0 L612.5,180.2 L613.2,180.3 L613.8,180.5 L614.5,180.6 L615.2,180.7 L615.8,180.9 L616.5,181.0 L617.1,181.1 L617.7,181.2 L618.4,181.3 L619.1,181.4 L619.7,181.5 L620.4,181.6 L621.0,181.7 L621.7,181.9 L622.4,182.0 L623.2,182.2 L624.0,182.4 L624.8,182.6 L625.6,182.8 L626.4,183.0 L627.2,183.2 L628.0,183.4 L628.8,183.7 L629.6,183.9 L630.4,184.1 L631.2,184.3 L632.0,184.5 L632.7,184.7 L633.4,184.8 L634.0,185.0 L634.7,185.2 L635.3,185.3 L636.0,185.5 L636.6,185.7 L637.3,185.8 L637.9,185.9 L638.6,186.1 L639.3,186.2 L640.0,186.3 L640.8,186.4 L641.6,186.5 L642.4,186.6 L643.2,186.6 L644.1,186.7 L644.9,186.7 L645.8,186.8 L646.6,186.8 L647.5,186.9 L648.3,186.9 L649.2,186.9 L650.0,187.0" fill="none" stroke="#62a862" stroke-width="1.5" stroke-linejoin="round" />
<path d="M379.0,187.0 L379.2,186.9 L379.3,186.8 L379.5,186.7 L379.7,186.6 L379.8,186.5 L380.0,186.4 L380.1,186.3 L380.3,186.2 L380.5,186.1 L380.6,186.0 L380.8,185.8 L381.0,185.7 L381.3,185.5 L381.5,185.2 L381.8,185.0 L382.1,184.7 L382.4,184.4 L382.7,184.1 L382.9,183.8 L383.2,183.6 L383.6,183.3 L383.9,183.0 L384.2,182.8 L384.5,182.6 L384.8,182.4 L385.1,182.3 L385.5,182.1 L385.8,181.9 L386.2,181.8 L386.5,181.6 L386.9,181.5 L387.2,181.4 L387.5,181.4 L387.9,181.3 L388.2,181.3 L388.5,181.3 L388.8,181.3 L389.0,181.4 L389.3,181.5 L389.6,181.6 L389.8,181.8 L390.1,182.0 L390.3,182.1 L390.6,182.3 L390.8,182.5 L391.0,182.7 L391.3,182.8 L391.5,183.0 L391.7,183.2 L391.9,183.3 L392.1,183.5 L392.3,183.7 L392.5,183.8 L392.7,184.0 L392.9,184.2 L393.1,184.4 L393.3,184.5 L393.5,184.7 L393.7,184.9 L394.0,185.0 L394.4,185.2 L394.8,185.3 L395.2,185.5 L395.7,185.6 L396.1,185.8 L396.6,185.9 L397.1,186.0 L397.6,186.1 L398.1,186.2 L398.7,186.3 L399.2,186.4 L399.7,186.5 L400.3,186.6 L401.0,186.7 L401.7,186.7 L402.4,186.8 L403.1,186.9 L403.8,186.9 L404.5,186.9 L405.2,186.9 L405.9,186.9 L406.6,186.9 L407.3,186.9 L408.0,186.8 L408.7,186.7 L409.3,186.6 L410.0,186.5 L410.7,186.4 L411.3,186.2 L412.0,186.1 L412.6,185.9 L413.3,185.7 L413.9,185.4 L414.6,185.2 L415.2,184.9 L415.9,184.6 L416.7,184.2 L417.5,183.7 L418.2,183.2 L419.0,182.6 L419.8,182.0 L420.6,181.4 L421.4,180.8 L422.1,180.1 L422.9,179.5 L423.7,178.8 L424.5,178.1 L425.3,177.5 L426.2,176.8 L427.1,176.1 L428.0,175.4 L429.0,174.6 L429.9,173.9 L430.9,173.1 L431.8,172.4 L432.7,171.6 L433.6,170.8 L434.4,170.1 L435.2,169.3 L436.0,168.5 L436.6,167.8 L437.2,167.1 L437.8,166.5 L438.3,165.8 L438.9,165.1 L439.4,164.4 L439.9,163.7 L440.4,163.0 L440.9,162.3 L441.3,161.5 L441.8,160.8 L442.3,160.0 L442.8,159.1 L443.3,158.2 L443.8,157.3 L444.3,156.3 L444.8,155.4 L445.3,154.4 L445.8,153.4 L446.2,152.4 L446.7,151.4 L447.1,150.5 L447.6,149.5 L448.0,148.5 L448.4,147.5 L448.8,146.6 L449.2,145.6 L449.6,144.7 L450.0,143.7 L450.3,142.8 L450.7,141.8 L451.1,140.8 L451.4,139.9 L451.8,138.9 L452.1,138.0 L452.5,137.0 L452.8,136.1 L453.2,135.1 L453.5,134.2 L453.9,133.3 L454.2,132.4 L454.5,131.5 L454.9,130.5 L455.2,129.6 L455.5,128.7 L455.9,127.8 L456.2,126.9 L456.5,126.0 L456.8,125.1 L457.1,124.3 L457.4,123.4 L457.7,122.5 L458.0,121.7 L458.3,120.8 L458.5,120.0 L458.8,119.1 L459.1,118.3 L459.5,117.5 L459.8,116.7 L460.1,116.0 L460.4,115.4 L460.7,114.8 L460.9,114.2 L461.2,113.6 L461.5,113.0 L461.8,112.4 L462.1,111.9 L462.4,111.4 L462.7,110.9 L463.1,110.4 L463.4,109.9 L463.8,109.5 L464.1,109.2 L464.5,108.8 L464.8,108.5 L465.2,108.2 L465.5,108.0 L465.9,107.7 L466.3,107.5 L466.7,107.2 L467.1,107.0 L467.5,106.8 L467.9,106.7 L468.3,106.5 L468.8,106.4 L469.2,106.3 L469.7,106.2 L470.1,106.1 L470.6,106.1 L471.1,106.1 L471.6,106.1 L472.1,106.1 L472.7,106.1 L473.3,106.1 L474.0,106.1 L474.7,106.1 L476.9,106.1 L479.5,106.0 L482.5,106.0 L485.9,106.0 L489.4,106.0 L493.2,106.0 L497.0,106.0 L500.8,106.1 L504.6,106.1 L508.3,106.1 L511.7,106.2 L514.8,106.2 L517.1,106.2 L519.5,106.3 L521.8,106.3 L524.1,106.3 L526.3,106.4 L528.5,106.4 L530.6,106.4 L532.7,106.5 L534.7,106.5 L536.6,106.5 L538.3,106.6 L540.0,106.6 L541.0,106.6 L541.9,106.6 L542.8,106.6 L543.6,106.5 L544.4,106.5 L545.2,106.5 L546.0,106.5 L546.8,106.5 L547.5,106.5 L548.2,106.5 L549.0,106.6 L549.7,106.7 L550.4,106.8 L551.0,106.9 L551.7,107.0 L552.3,107.2 L552.9,107.3 L553.6,107.5 L554.2,107.7 L554.8,107.9 L555.4,108.1 L555.9,108.3 L556.5,108.6 L557.0,108.9 L557.5,109.2 L558.0,109.5 L558.4,109.9 L558.8,110.2 L559.3,110.6 L559.7,111.0 L560.1,111.5 L560.5,111.9 L560.8,112.3 L561.2,112.8 L561.6,113.3 L561.9,113.8 L562.3,114.4 L562.6,115.0 L562.9,115.7 L563.3,116.4 L563.5,117.2 L563.8,117.9 L564.1,118.6 L564.4,119.4 L564.6,120.1 L564.9,120.9 L565.2,121.6 L565.5,122.3 L565.8,123.0 L566.1,123.6 L566.4,124.2 L566.7,124.9 L567.0,125.5 L567.3,126.1 L567.6,126.7 L568.0,127.4 L568.3,128.0 L568.6,128.7 L568.9,129.3 L569.2,130.0 L569.6,130.8 L569.9,131.6 L570.3,132.4 L570.6,133.3 L571.0,134.1 L571.4,135.0 L571.7,135.8 L572.1,136.7 L572.5,137.5 L572.8,138.4 L573.2,139.2 L573.5,140.0 L573.8,140.7 L574.1,141.5 L574.4,142.2 L574.7,142.9 L575.0,143.6 L575.3,144.3 L575.6,145.0 L575.9,145.7 L576.2,146.4 L576.5,147.1 L576.8,147.8 L577.1,148.5 L577.4,149.2 L577.7,149.9 L578.0,150.6 L578.3,151.4 L578.6,152.1 L578.9,152.8 L579.2,153.5 L579.6,154.2 L579.9,154.9 L580.2,155.6 L580.5,156.3 L580.8,157.0 L581.1,157.6 L581.4,158.3 L581.7,158.9 L582.0,159.5 L582.3,160.1 L582.6,160.8 L582.9,161.4 L583.2,162.0 L583.5,162.6 L583.8,163.2 L584.1,163.7 L584.4,164.3 L584.7,164.8 L584.9,165.3 L585.1,165.7 L585.4,166.2 L585.6,166.7 L585.8,167.1 L586.1,167.6 L586.3,168.0 L586.6,168.5 L586.9,168.9 L587.2,169.4 L587.5,169.8 L587.9,170.3 L588.4,170.9 L588.8,171.4 L589.3,172.0 L589.8,172.6 L590.3,173.1 L590.9,173.6 L591.4,174.2 L592.0,174.7 L592.5,175.1 L593.1,175.6 L593.7,176.0 L594.3,176.4 L594.9,176.7 L595.5,177.1 L596.2,177.4 L596.8,177.7 L597.5,177.9 L598.1,178.2 L598.8,178.4 L599.5,178.7 L600.2,178.9 L600.8,179.1 L601.5,179.3 L602.1,179.5 L602.8,179.6 L603.4,179.8 L604.1,179.9 L604.7,180.1 L605.4,180.2 L606.0,180.3 L606.7,180.4 L607.3,180.5 L608.0,180.5 L608.6,180.6 L609.3,180.6 L610.0,180.6 L610.6,180.6 L611.3,180.6 L611.9,180.5 L612.6,180.5 L613.2,180.4 L613.9,180.4 L614.6,180.3 L615.2,180.2 L615.9,180.1 L616.5,180.1 L617.2,180.0 L617.9,180.0 L618.5,179.9 L619.2,179.9 L619.8,179.8 L620.5,179.8 L621.2,179.8 L621.8,179.7 L622.5,179.7 L623.1,179.6 L623.8,179.5 L624.4,179.4 L625.0,179.3 L625.6,179.2 L626.1,179.0 L626.7,178.7 L627.3,178.5 L627.8,178.3 L628.4,178.0 L629.0,177.8 L629.5,177.5 L630.0,177.4 L630.5,177.2 L631.0,177.1 L631.5,177.1 L631.9,177.1 L632.2,177.2 L632.6,177.2 L632.9,177.3 L633.2,177.4 L633.5,177.6 L633.9,177.7 L634.2,177.9 L634.5,178.0 L634.8,178.2 L635.1,178.4 L635.4,178.6 L635.7,178.9 L636.1,179.1 L636.4,179.5 L636.7,179.8 L637.1,180.2 L637.4,180.5 L637.7,180.9 L638.0,181.3 L638.3,181.6 L638.6,182.0 L639.0,182.3 L639.3,182.6 L639.6,182.9 L639.9,183.1 L640.2,183.3 L640.6,183.6 L640.9,183.8 L641.2,184.0 L641.5,184.2 L641.9,184.4 L642.2,184.6 L642.5,184.8 L642.9,185.0 L643.2,185.2 L643.5,185.4 L643.8,185.5 L644.1,185.7 L644.5,185.8 L644.8,186.0 L645.1,186.1 L645.4,186.3 L645.8,186.4 L646.1,186.5 L646.4,186.6 L646.7,186.7 L647.0,186.8 L647.3,186.9 L647.5,186.9 L647.8,186.9 L648.0,186.9 L648.3,187.0 L648.5,187.0 L648.8,187.0 L649.0,187.0 L649.3,187.0 L649.5,187.0 L649.8,187.0 L650.0,187.0" fill="none" stroke="#f0a04c" stroke-width="1.5" stroke-linejoin="round" />
<path d="M379.0,187.0 L379.2,186.9 L379.5,186.9 L379.7,186.8 L380.0,186.8 L380.2,186.8 L380.5,186.7 L380.7,186.7 L381.0,186.6 L381.2,186.5 L381.5,186.5 L381.7,186.4 L382.0,186.3 L382.3,186.2 L382.6,186.0 L383.0,185.8 L383.3,185.7 L383.7,185.5 L384.0,185.3 L384.3,185.1 L384.7,184.9 L385.0,184.7 L385.4,184.5 L385.7,184.4 L386.0,184.3 L386.3,184.2 L386.5,184.2 L386.8,184.1 L387.0,184.1 L387.3,184.0 L387.5,184.0 L387.8,184.0 L388.0,184.0 L388.3,184.0 L388.5,184.0 L388.8,184.0 L389.0,184.0 L389.3,184.0 L389.5,184.1 L389.7,184.1 L390.0,184.2 L390.2,184.3 L390.5,184.4 L390.7,184.5 L391.0,184.6 L391.2,184.7 L391.5,184.8 L391.7,184.9 L392.0,185.0 L392.3,185.1 L392.6,185.3 L392.9,185.4 L393.3,185.6 L393.6,185.8 L393.9,186.0 L394.3,186.1 L394.6,186.3 L394.9,186.5 L395.3,186.6 L395.6,186.7 L396.0,186.8 L396.4,186.9 L396.8,187.0 L397.2,187.0 L397.7,187.1 L398.1,187.1 L398.5,187.1 L399.0,187.1 L399.4,187.1 L399.9,187.1 L400.4,187.0 L400.8,186.9 L401.3,186.8 L401.9,186.6 L402.6,186.4 L403.3,186.1 L403.9,185.8 L404.6,185.4 L405.3,185.1 L406.0,184.6 L406.7,184.2 L407.4,183.8 L408.1,183.3 L408.7,182.9 L409.4,182.4 L410.1,181.9 L410.8,181.4 L411.5,180.8 L412.2,180.2 L412.9,179.7 L413.5,179.0 L414.2,178.4 L414.9,177.8 L415.5,177.1 L416.2,176.5 L416.9,175.8 L417.5,175.1 L418.2,174.3 L418.9,173.5 L419.6,172.6 L420.4,171.8 L421.1,170.9 L421.8,169.9 L422.4,169.0 L423.1,168.1 L423.8,167.2 L424.4,166.3 L425.0,165.4 L425.6,164.6 L426.1,163.9 L426.5,163.2 L427.0,162.5 L427.4,161.8 L427.9,161.1 L428.3,160.5 L428.7,159.8 L429.1,159.1 L429.5,158.5 L429.8,157.8 L430.2,157.2 L430.5,156.5 L430.8,155.9 L431.0,155.4 L431.2,154.9 L431.4,154.4 L431.6,153.8 L431.8,153.3 L431.9,152.8 L432.1,152.3 L432.3,151.7 L432.5,151.2 L432.7,150.6 L432.9,150.0 L433.2,149.2 L433.5,148.3 L433.8,147.4 L434.2,146.5 L434.5,145.6 L434.9,144.6 L435.2,143.6 L435.6,142.7 L435.9,141.7 L436.3,140.8 L436.6,139.9 L437.0,139.0 L437.3,138.2 L437.6,137.4 L437.9,136.6 L438.2,135.8 L438.6,135.0 L438.9,134.2 L439.2,133.4 L439.5,132.6 L439.9,131.9 L440.2,131.2 L440.6,130.6 L441.0,130.0 L441.3,129.6 L441.7,129.2 L442.0,128.8 L442.4,128.4 L442.7,128.1 L443.1,127.7 L443.5,127.4 L443.9,127.1 L444.3,126.8 L444.7,126.5 L445.1,126.3 L445.5,126.0 L445.9,125.7 L446.4,125.5 L446.8,125.2 L447.2,125.0 L447.7,124.8 L448.2,124.6 L448.6,124.4 L449.1,124.2 L449.6,124.1 L450.1,123.9 L450.5,123.8 L451.0,123.7 L451.4,123.6 L451.9,123.6 L452.3,123.6 L452.8,123.6 L453.2,123.6 L453.7,123.6 L454.1,123.6 L454.6,123.7 L455.0,123.7 L455.5,123.7 L456.0,123.8 L456.5,123.8 L457.2,123.8 L457.9,123.9 L458.6,123.9 L459.3,123.9 L460.0,124.0 L460.8,124.0 L461.5,124.0 L462.3,124.1 L463.1,124.1 L463.9,124.1 L464.8,124.2 L465.6,124.2 L466.7,124.2 L467.7,124.2 L468.8,124.3 L469.9,124.3 L471.0,124.3 L472.2,124.3 L473.4,124.3 L474.6,124.3 L475.9,124.3 L477.2,124.3 L478.6,124.3 L480.0,124.3 L482.4,124.3 L485.0,124.3 L487.8,124.3 L490.7,124.4 L493.7,124.4 L496.8,124.4 L499.9,124.4 L503.1,124.4 L506.1,124.4 L509.1,124.5 L512.0,124.5 L514.8,124.5 L517.1,124.5 L519.3,124.5 L521.5,124.5 L523.6,124.5 L525.8,124.5 L527.9,124.6 L529.9,124.6 L532.0,124.6 L534.0,124.6 L536.0,124.6 L538.0,124.7 L540.0,124.7 L541.7,124.7 L543.5,124.8 L545.3,124.8 L547.1,124.8 L548.8,124.9 L550.6,124.9 L552.2,125.0 L553.9,125.1 L555.4,125.1 L556.9,125.2 L558.2,125.3 L559.5,125.4 L560.2,125.5 L560.8,125.5 L561.4,125.6 L562.0,125.7 L562.6,125.7 L563.2,125.8 L563.7,125.9 L564.2,126.0 L564.7,126.1 L565.2,126.2 L565.6,126.3 L566.1,126.4 L566.4,126.5 L566.8,126.6 L567.1,126.7 L567.4,126.8 L567.7,126.9 L568.0,127.0 L568.2,127.1 L568.5,127.2 L568.8,127.4 L569.1,127.5 L569.4,127.6 L569.7,127.8 L570.1,128.0 L570.5,128.2 L570.9,128.4 L571.3,128.7 L571.7,128.9 L572.1,129.2 L572.6,129.4 L573.0,129.7 L573.4,129.9 L573.8,130.2 L574.2,130.5 L574.6,130.8 L575.0,131.1 L575.4,131.4 L575.8,131.7 L576.2,132.1 L576.7,132.4 L577.1,132.7 L577.5,133.1 L577.8,133.4 L578.2,133.8 L578.6,134.2 L579.0,134.6 L579.4,135.0 L579.8,135.5 L580.3,136.0 L580.7,136.5 L581.1,137.1 L581.5,137.6 L582.0,138.2 L582.4,138.8 L582.8,139.4 L583.2,140.0 L583.5,140.5 L583.9,141.1 L584.3,141.7 L584.6,142.3 L585.0,142.8 L585.3,143.3 L585.6,143.9 L585.9,144.4 L586.2,145.0 L586.5,145.6 L586.8,146.1 L587.2,146.7 L587.5,147.3 L587.8,147.9 L588.1,148.5 L588.5,149.2 L588.9,150.0 L589.3,150.8 L589.7,151.6 L590.1,152.5 L590.5,153.3 L590.9,154.1 L591.3,155.0 L591.7,155.8 L592.1,156.6 L592.5,157.4 L592.9,158.2 L593.3,158.9 L593.7,159.7 L594.1,160.5 L594.5,161.3 L594.9,162.0 L595.3,162.8 L595.7,163.5 L596.1,164.2 L596.5,164.9 L597.0,165.6 L597.4,166.2 L597.8,166.7 L598.1,167.1 L598.4,167.4 L598.7,167.7 L599.0,168.0 L599.2,168.2 L599.5,168.5 L599.8,168.7 L600.1,168.9 L600.5,169.2 L600.8,169.4 L601.1,169.7 L601.5,170.0 L602.0,170.4 L602.6,170.9 L603.2,171.3 L603.8,171.8 L604.4,172.3 L605.1,172.8 L605.8,173.3 L606.4,173.7 L607.1,174.2 L607.9,174.6 L608.6,175.0 L609.3,175.4 L610.1,175.8 L611.0,176.1 L611.8,176.4 L612.7,176.7 L613.6,177.0 L614.6,177.3 L615.5,177.5 L616.4,177.8 L617.3,178.0 L618.2,178.2 L619.0,178.4 L619.8,178.6 L620.4,178.8 L621.0,178.9 L621.5,179.1 L622.1,179.3 L622.7,179.5 L623.2,179.6 L623.7,179.8 L624.3,179.9 L624.8,180.0 L625.3,180.0 L625.8,180.0 L626.3,180.0 L626.8,179.9 L627.2,179.8 L627.6,179.5 L628.1,179.3 L628.5,179.0 L628.9,178.7 L629.3,178.4 L629.8,178.2 L630.2,177.9 L630.6,177.8 L631.0,177.6 L631.5,177.6 L632.0,177.6 L632.6,177.7 L633.1,177.9 L633.7,178.1 L634.2,178.3 L634.8,178.6 L635.3,178.9 L635.9,179.3 L636.4,179.6 L637.0,179.9 L637.5,180.3 L638.0,180.6 L638.5,180.9 L638.9,181.3 L639.4,181.7 L639.8,182.1 L640.3,182.5 L640.7,183.0 L641.1,183.4 L641.5,183.8 L641.9,184.2 L642.4,184.6 L642.8,184.9 L643.2,185.2 L643.5,185.4 L643.8,185.6 L644.2,185.8 L644.5,185.9 L644.8,186.1 L645.1,186.2 L645.4,186.3 L645.8,186.4 L646.1,186.5 L646.4,186.6 L646.7,186.7 L647.0,186.8 L647.3,186.9 L647.5,186.9 L647.8,186.9 L648.0,186.9 L648.3,187.0 L648.5,187.0 L648.8,187.0 L649.0,187.0 L649.3,187.0 L649.5,187.0 L649.8,187.0 L650.0,187.0" fill="none" stroke="#9066b0" stroke-width="1.5" stroke-linejoin="round" />
</g>
<rect x="378.2" y="10.9" width="272.40000000000003" height="176.2" fill="none" stroke="#222" stroke-width="1.2"/>
<path d="M514.8,10.9 V187.1" stroke="#222" stroke-width="1.2"/>
<path d="M509.15,187.1v-3.2M509.15,10.9v3.2M503.54,187.1v-2.8M503.54,10.9v2.8M500.25,187.1v-2.8M500.25,10.9v2.8M497.92,187.1v-2.8M497.92,10.9v2.8M496.11,187.1v-2.8M496.11,10.9v2.8M494.64,187.1v-2.8M494.64,10.9v2.8M493.39,187.1v-2.8M493.39,10.9v2.8M492.31,187.1v-2.8M492.31,10.9v2.8M491.35,187.1v-2.8M491.35,10.9v2.8M484.89,187.1v-2.8M484.89,10.9v2.8M481.60,187.1v-2.8M481.60,10.9v2.8M479.27,187.1v-2.8M479.27,10.9v2.8M477.46,187.1v-2.8M477.46,10.9v2.8M475.99,187.1v-2.8M475.99,10.9v2.8M474.74,187.1v-2.8M474.74,10.9v2.8M473.66,187.1v-2.8M473.66,10.9v2.8M472.70,187.1v-2.8M472.70,10.9v2.8M471.85,187.1v-3.2M471.85,10.9v3.2M466.24,187.1v-2.8M466.24,10.9v2.8M462.95,187.1v-2.8M462.95,10.9v2.8M460.62,187.1v-2.8M460.62,10.9v2.8M458.81,187.1v-2.8M458.81,10.9v2.8M457.34,187.1v-2.8M457.34,10.9v2.8M456.09,187.1v-2.8M456.09,10.9v2.8M455.01,187.1v-2.8M455.01,10.9v2.8M454.05,187.1v-2.8M454.05,10.9v2.8M447.59,187.1v-2.8M447.59,10.9v2.8M444.30,187.1v-2.8M444.30,10.9v2.8M441.97,187.1v-2.8M441.97,10.9v2.8M440.16,187.1v-2.8M440.16,10.9v2.8M438.69,187.1v-2.8M438.69,10.9v2.8M437.44,187.1v-2.8M437.44,10.9v2.8M436.36,187.1v-2.8M436.36,10.9v2.8M435.40,187.1v-2.8M435.40,10.9v2.8M434.55,187.1v-3.2M434.55,10.9v3.2M428.94,187.1v-2.8M428.94,10.9v2.8M425.65,187.1v-2.8M425.65,10.9v2.8M423.32,187.1v-2.8M423.32,10.9v2.8M421.51,187.1v-2.8M421.51,10.9v2.8M420.04,187.1v-2.8M420.04,10.9v2.8M418.79,187.1v-2.8M418.79,10.9v2.8M417.71,187.1v-2.8M417.71,10.9v2.8M416.75,187.1v-2.8M416.75,10.9v2.8M410.29,187.1v-2.8M410.29,10.9v2.8M407.00,187.1v-2.8M407.00,10.9v2.8M404.67,187.1v-2.8M404.67,10.9v2.8M402.86,187.1v-2.8M402.86,10.9v2.8M401.39,187.1v-2.8M401.39,10.9v2.8M400.14,187.1v-2.8M400.14,10.9v2.8M399.06,187.1v-2.8M399.06,10.9v2.8M398.10,187.1v-2.8M398.10,10.9v2.8M397.25,187.1v-3.2M397.25,10.9v3.2M391.64,187.1v-2.8M391.64,10.9v2.8M388.35,187.1v-2.8M388.35,10.9v2.8M386.02,187.1v-2.8M386.02,10.9v2.8M384.21,187.1v-2.8M384.21,10.9v2.8M382.74,187.1v-2.8M382.74,10.9v2.8M381.49,187.1v-2.8M381.49,10.9v2.8M380.41,187.1v-2.8M380.41,10.9v2.8M379.45,187.1v-2.8M379.45,10.9v2.8M520.65,187.1v-3.2M520.65,10.9v3.2M526.26,187.1v-2.8M526.26,10.9v2.8M529.55,187.1v-2.8M529.55,10.9v2.8M531.88,187.1v-2.8M531.88,10.9v2.8M533.69,187.1v-2.8M533.69,10.9v2.8M535.16,187.1v-2.8M535.16,10.9v2.8M536.41,187.1v-2.8M536.41,10.9v2.8M537.49,187.1v-2.8M537.49,10.9v2.8M538.45,187.1v-2.8M538.45,10.9v2.8M544.91,187.1v-2.8M544.91,10.9v2.8M548.20,187.1v-2.8M548.20,10.9v2.8M550.53,187.1v-2.8M550.53,10.9v2.8M552.34,187.1v-2.8M552.34,10.9v2.8M553.81,187.1v-2.8M553.81,10.9v2.8M555.06,187.1v-2.8M555.06,10.9v2.8M556.14,187.1v-2.8M556.14,10.9v2.8M557.10,187.1v-2.8M557.10,10.9v2.8M557.95,187.1v-3.2M557.95,10.9v3.2M563.56,187.1v-2.8M563.56,10.9v2.8M566.85,187.1v-2.8M566.85,10.9v2.8M569.18,187.1v-2.8M569.18,10.9v2.8M570.99,187.1v-2.8M570.99,10.9v2.8M572.46,187.1v-2.8M572.46,10.9v2.8M573.71,187.1v-2.8M573.71,10.9v2.8M574.79,187.1v-2.8M574.79,10.9v2.8M575.75,187.1v-2.8M575.75,10.9v2.8M582.21,187.1v-2.8M582.21,10.9v2.8M585.50,187.1v-2.8M585.50,10.9v2.8M587.83,187.1v-2.8M587.83,10.9v2.8M589.64,187.1v-2.8M589.64,10.9v2.8M591.11,187.1v-2.8M591.11,10.9v2.8M592.36,187.1v-2.8M592.36,10.9v2.8M593.44,187.1v-2.8M593.44,10.9v2.8M594.40,187.1v-2.8M594.40,10.9v2.8M595.25,187.1v-3.2M595.25,10.9v3.2M600.86,187.1v-2.8M600.86,10.9v2.8M604.15,187.1v-2.8M604.15,10.9v2.8M606.48,187.1v-2.8M606.48,10.9v2.8M608.29,187.1v-2.8M608.29,10.9v2.8M609.76,187.1v-2.8M609.76,10.9v2.8M611.01,187.1v-2.8M611.01,10.9v2.8M612.09,187.1v-2.8M612.09,10.9v2.8M613.05,187.1v-2.8M613.05,10.9v2.8M619.51,187.1v-2.8M619.51,10.9v2.8M622.80,187.1v-2.8M622.80,10.9v2.8M625.13,187.1v-2.8M625.13,10.9v2.8M626.94,187.1v-2.8M626.94,10.9v2.8M628.41,187.1v-2.8M628.41,10.9v2.8M629.66,187.1v-2.8M629.66,10.9v2.8M630.74,187.1v-2.8M630.74,10.9v2.8M631.70,187.1v-2.8M631.70,10.9v2.8M632.55,187.1v-3.2M632.55,10.9v3.2M638.16,187.1v-2.8M638.16,10.9v2.8M641.45,187.1v-2.8M641.45,10.9v2.8M643.78,187.1v-2.8M643.78,10.9v2.8M645.59,187.1v-2.8M645.59,10.9v2.8M647.06,187.1v-2.8M647.06,10.9v2.8M648.31,187.1v-2.8M648.31,10.9v2.8M649.39,187.1v-2.8M649.39,10.9v2.8M650.35,187.1v-2.8M650.35,10.9v2.8M510.24,187.1v-2.8M510.24,10.9v2.8M511.38,187.1v-2.8M511.38,10.9v2.8M512.52,187.1v-2.8M512.52,10.9v2.8M513.66,187.1v-2.8M513.66,10.9v2.8M515.94,187.1v-2.8M515.94,10.9v2.8M517.08,187.1v-2.8M517.08,10.9v2.8M518.22,187.1v-2.8M518.22,10.9v2.8M519.36,187.1v-2.8M519.36,10.9v2.8" stroke="#111" stroke-width="1.1" fill="none"/>
<path d="M378.2,156.8h4M650.6,156.8h-4M508.8,156.8h12M378.2,126.2h4M650.6,126.2h-4M508.8,126.2h12M378.2,95.6h4M650.6,95.6h-4M508.8,95.6h12M378.2,65.0h4M650.6,65.0h-4M508.8,65.0h12M378.2,34.4h4M650.6,34.4h-4M508.8,34.4h12M490.50,187.1v-5.5M490.50,10.9v5.5M453.20,187.1v-5.5M453.20,10.9v5.5M415.90,187.1v-5.5M415.90,10.9v5.5M378.60,187.1v-5.5M378.60,10.9v5.5M539.30,187.1v-5.5M539.30,10.9v5.5M576.60,187.1v-5.5M576.60,10.9v5.5M613.90,187.1v-5.5M613.90,10.9v5.5" stroke="#222" stroke-width="1.1" fill="none"/>
<text x="374.2" y="191.3" font-family="Liberation Sans, sans-serif" font-size="10.3" text-anchor="end">0</text>
<text x="374.2" y="160.7" font-family="Liberation Sans, sans-serif" font-size="10.3" text-anchor="end">20</text>
<text x="374.2" y="130.1" font-family="Liberation Sans, sans-serif" font-size="10.3" text-anchor="end">40</text>
<text x="374.2" y="99.5" font-family="Liberation Sans, sans-serif" font-size="10.3" text-anchor="end">60</text>
<text x="374.2" y="68.9" font-family="Liberation Sans, sans-serif" font-size="10.3" text-anchor="end">80</text>
<text x="374.2" y="38.3" font-family="Liberation Sans, sans-serif" font-size="10.3" text-anchor="end">100</text>
<text x="386.6" y="205" font-family="Liberation Sans, sans-serif" font-size="10.5" text-anchor="middle">-10<tspan font-size="7.2" dy="-5" dx="1.3">1</tspan></text>
<text x="418.4" y="205" font-family="Liberation Sans, sans-serif" font-size="10.5" text-anchor="middle">-10<tspan font-size="7.2" dy="-5" dx="1.3">-1</tspan></text>
<text x="456.5" y="205" font-family="Liberation Sans, sans-serif" font-size="10.5" text-anchor="middle">-10<tspan font-size="7.2" dy="-5" dx="1.3">-3</tspan></text>
<text x="493.0" y="205" font-family="Liberation Sans, sans-serif" font-size="10.5" text-anchor="middle">-10<tspan font-size="7.2" dy="-5" dx="1.3">-5</tspan></text>
<text x="543.8" y="205" font-family="Liberation Sans, sans-serif" font-size="10.5" text-anchor="middle">10<tspan font-size="7.2" dy="-5" dx="1.3">-5</tspan></text>
<text x="581.0" y="205" font-family="Liberation Sans, sans-serif" font-size="10.5" text-anchor="middle">10<tspan font-size="7.2" dy="-5" dx="1.3">-3</tspan></text>
<text x="619.0" y="205" font-family="Liberation Sans, sans-serif" font-size="10.5" text-anchor="middle">10<tspan font-size="7.2" dy="-5" dx="1.3">-1</tspan></text>
<text x="653.5" y="205" font-family="Liberation Sans, sans-serif" font-size="10.5" text-anchor="middle">10<tspan font-size="7.2" dy="-5" dx="1.3">1</tspan></text>
<text transform="translate(513.5,222) scale(1.07,1)" font-family="Liberation Serif, serif" font-size="15" fill="#111" stroke="#fff" stroke-width="0.18" text-anchor="middle"><tspan font-style="italic">ω</tspan> <tspan font-size="16.5">(</tspan>eV<tspan font-size="16.5">)</tspan></text>
<text transform="translate(350.5,99.8) rotate(-90) scale(1.24,1)" font-family="Liberation Serif, serif" font-size="15" fill="#111" stroke="#fff" stroke-width="0.18" text-anchor="middle"><tspan font-style="italic">A</tspan>(<tspan font-style="italic">ω</tspan>) (a.u.)</text>
<text x="387.5" y="33.6" font-family="Liberation Sans, sans-serif" font-size="12.5">(b)</text>
<path d="M511.2,4.8l1.3,1.6M534.6,4.6l-1.3,1.8" stroke="#888" stroke-width="1.1"/>
</svg>
</body></html>
